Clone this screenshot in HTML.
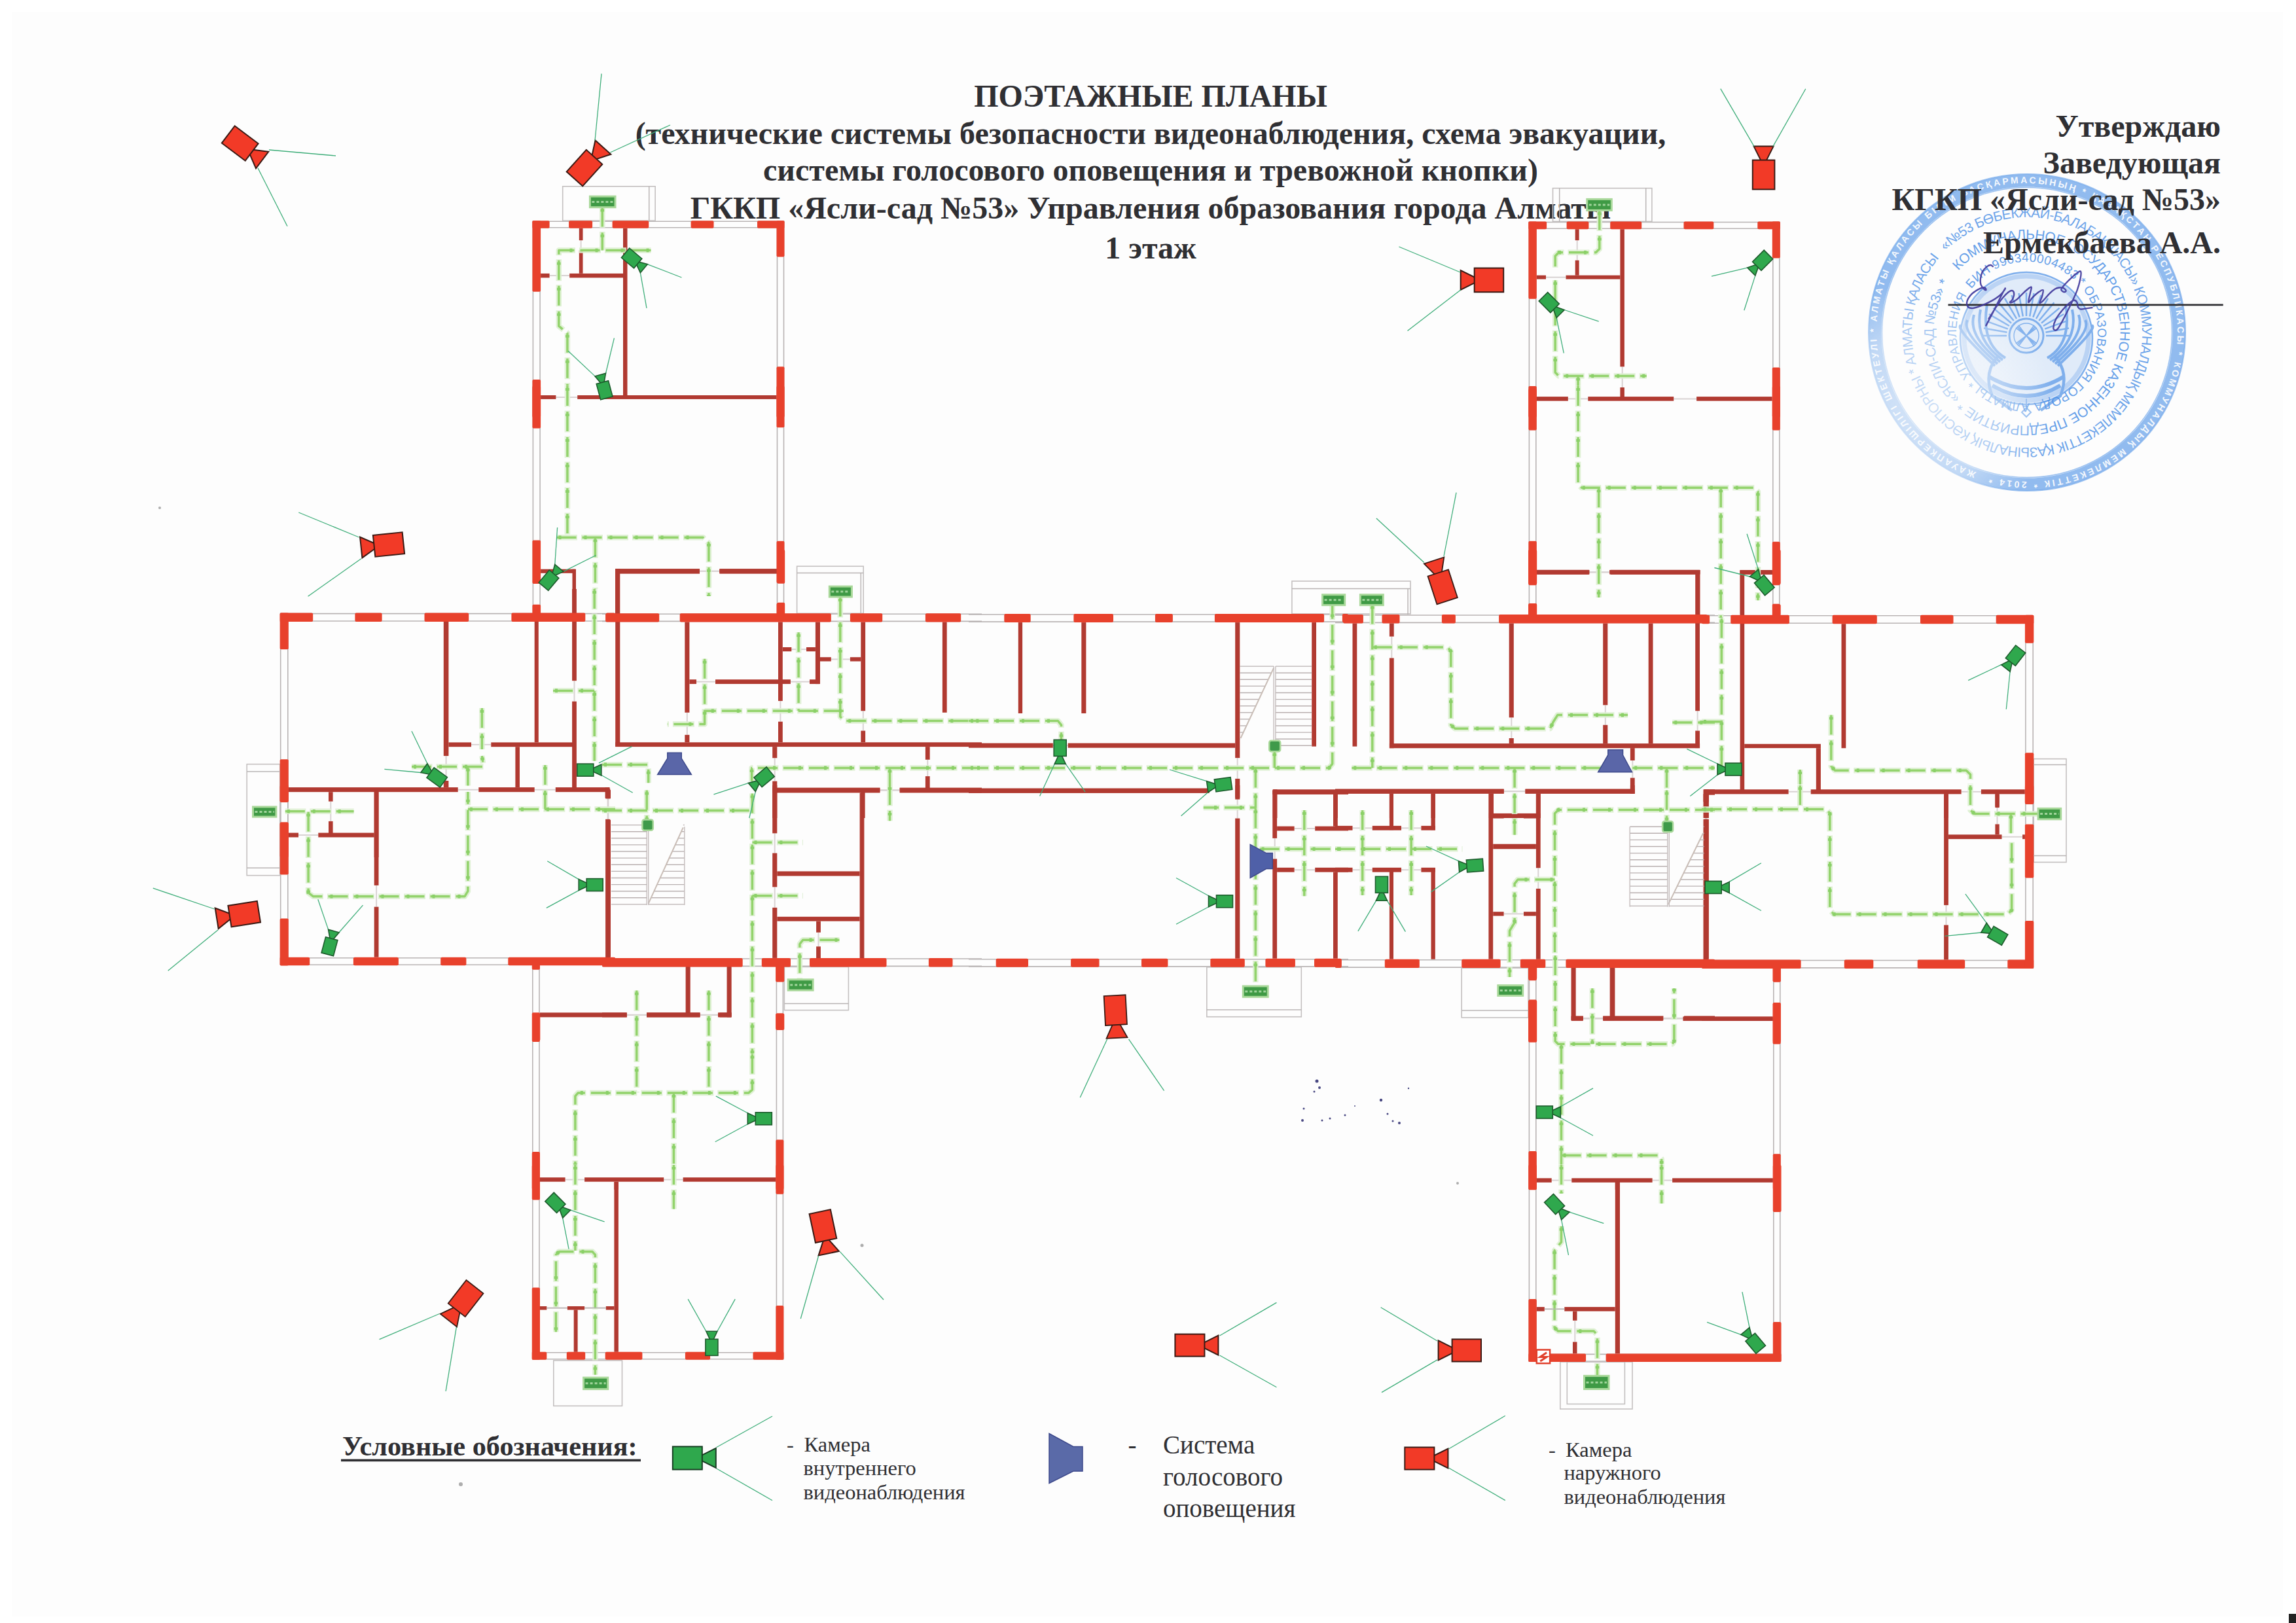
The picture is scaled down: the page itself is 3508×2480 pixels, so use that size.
<!DOCTYPE html>
<html><head><meta charset="utf-8"><title>Поэтажные планы</title>
<style>html,body{margin:0;padding:0;background:#fff;}body{width:3508px;height:2480px;overflow:hidden;position:relative;font-family:"Liberation Serif",serif;}svg{position:absolute;left:0;top:0;display:block}text{font-family:"Liberation Serif",serif}text.ss{font-family:"Liberation Sans",sans-serif}</style></head><body>
<svg width="3508" height="2480" viewBox="0 0 3508 2480">
<rect x="0" y="0" width="3508" height="2480" fill="#ffffff"/>
<rect x="18" y="18" width="3470" height="2452" fill="#fdfdfd"/><rect x="3497" y="2466" width="11" height="14" fill="#222"/>
<g id="stamp"><circle cx="3097" cy="508" r="232" fill="none" stroke="#4a8fe6" stroke-width="19" opacity="0.6"/><circle cx="3097" cy="508" r="242" fill="none" stroke="#4a8fe6" stroke-width="2" opacity="0.55"/><circle cx="3097" cy="508" r="221.5" fill="none" stroke="#4a8fe6" stroke-width="1.5" opacity="0.55"/><path id="rt0" d="M3019.4 721.3 A227 227 0 1 1 3174.6 294.7 A227 227 0 1 1 3019.4 721.3" fill="none"/><text class="ss" font-size="14" font-weight="bold" fill="#ffffff" opacity="0.9" letter-spacing="0" textLength="1416.3" lengthAdjust="spacing"><textPath href="#rt0">ЖАУАПКЕРШІЛІГІ ШЕКТЕУЛІ * АЛМАТЫ ҚАЛАСЫ БІЛІМ БАСҚАРМАСЫНЫҢ * ҚАЗАҚСТАН РЕСПУБЛИКАСЫ * КОММУНАЛДЫҚ МЕМЛЕКЕТТІК * 2014 *</textPath></text><path id="rt1" d="M2972.5 383.5 A176 176 0 1 1 3221.5 632.5 A176 176 0 1 1 2972.5 383.5" fill="none"/><text class="ss" font-size="21" font-weight="normal" fill="#4a8fe6" opacity="0.8" letter-spacing="0" textLength="1091.8" lengthAdjust="spacing"><textPath href="#rt1">«№53 БӨБЕКЖАЙ-БАЛАБАҚШАСЫ» КОММУНАЛДЫҚ МЕМЛЕКЕТТІК ҚАЗЫНАЛЫҚ КӘСІПОРНЫ * АЛМАТЫ ҚАЛАСЫ</textPath></text><path id="rt2" d="M2992.2 413.7 A141 141 0 1 1 3201.8 602.3 A141 141 0 1 1 2992.2 413.7" fill="none"/><text class="ss" font-size="21" font-weight="normal" fill="#4a8fe6" opacity="0.85" letter-spacing="0" textLength="871.9" lengthAdjust="spacing"><textPath href="#rt2">КОММУНАЛЬНОЕ ГОСУДАРСТВЕННОЕ КАЗЕННОЕ ПРЕДПРИЯТИЕ * «ЯСЛИ-САД №53» *</textPath></text><path id="rt3" d="M3011.9 441.5 A108 108 0 1 1 3182.1 574.5 A108 108 0 1 1 3011.9 441.5" fill="none"/><text class="ss" font-size="19" font-weight="normal" fill="#4a8fe6" opacity="0.85" letter-spacing="0" textLength="666.6" lengthAdjust="spacing"><textPath href="#rt3">БИН 990340004483 * ОБРАЗОВАНИЯ ГОРОДА АЛМАТЫ * УПРАВЛЕНИЯ</textPath></text><g opacity="0.7" fill="none" stroke="#4a8fe6"><circle cx="3096" cy="517" r="101" stroke-width="2.5" fill="#4a8fe6" fill-opacity="0.22"/><circle cx="3096" cy="517" r="95" stroke-width="7" opacity="0.4"/><circle cx="3096" cy="513" r="26" stroke-width="3"/><circle cx="3096" cy="513" r="19" stroke-width="1.5"/><path d="M3082 499 l28 28 M3110 499 l-28 28 M3084 497 l24 32 M3108 497 l-24 32 M3080 501 l32 24 M3080 525 l32 -24" stroke-width="1.8"/><path d="M3066 513 L3030 513 M3066.5 507.8 L3031 501.5 M3067.8 502.7 L3034 490.4 M3070 498 L3038.8 480 M3073 493.7 L3045.4 470.6 M3076.7 490 L3053.6 462.4 M3081 487 L3063 455.8 M3085.7 484.8 L3073.4 451 M3090.8 483.5 L3084.5 448 M3096 483 L3096 447 M3101.2 483.5 L3107.5 448 M3106.3 484.8 L3118.6 451 M3111 487 L3129 455.8 M3115.3 490 L3138.4 462.4 M3119 493.7 L3146.6 470.6 M3122 498 L3153.2 480 M3124.2 502.7 L3158 490.4 M3125.5 507.8 L3161 501.5 M3126 513 L3162 513 " stroke-width="2.5"/><path d="M3064 547 Q3026 525 3036 465" stroke-width="4"/><path d="M3060 550 Q3016 519 3026 473" stroke-width="4"/><path d="M3056 553 Q3006 513 3016 481" stroke-width="4"/><path d="M3052 556 Q2996 507 3006 489" stroke-width="4"/><path d="M3048 559 Q2986 501 2996 497" stroke-width="4"/><path d="M3052 545 q-22 25 -8 60 q14 10 30 22" stroke-width="4.5"/><path d="M3128 547 Q3166 525 3156 465" stroke-width="4"/><path d="M3132 550 Q3176 519 3166 473" stroke-width="4"/><path d="M3136 553 Q3186 513 3176 481" stroke-width="4"/><path d="M3140 556 Q3196 507 3186 489" stroke-width="4"/><path d="M3144 559 Q3206 501 3196 497" stroke-width="4"/><path d="M3140 545 q22 25 8 60 q-14 10 -30 22" stroke-width="4.5"/><path d="M3038 575 q58 36 116 0 M3044 589 q52 32 104 0" stroke-width="6"/><path d="M3096 609 l0 14 l-7 7 l7 7 l7 -7 l-7 -7" stroke-width="2"/></g><defs><radialGradient id="fade"><stop offset="0" stop-color="#fdfdfd" stop-opacity="0.65"/><stop offset="0.6" stop-color="#fdfdfd" stop-opacity="0.45"/><stop offset="1" stop-color="#fdfdfd" stop-opacity="0"/></radialGradient></defs><circle cx="2947" cy="618" r="190" fill="url(#fade)"/></g>
<g font-weight="bold" font-size="48" fill="#2f2f33" text-anchor="middle">
<text x="1758" y="162.5">ПОЭТАЖНЫЕ ПЛАНЫ</text>
<text x="1758" y="219.5">(технические системы безопасности видеонаблюдения, схема эвакуации,</text>
<text x="1758" y="276">системы голосового оповещения и тревожной кнопки)</text>
<text x="1758" y="334">ГККП «Ясли-сад №53» Управления образования города Алматы</text>
<text x="1758" y="394.5">1 этаж</text>
</g>
<g font-weight="bold" font-size="48" fill="#2f2f33" text-anchor="end">
<text x="3393" y="208.5">Утверждаю</text>
<text x="3393" y="264.6">Заведующая</text>
<text x="3393" y="320.7">КГКП «Ясли-сад №53»</text>
<text x="3393" y="386.6">Ермекбаева А.А.</text>
</g>
<line x1="2976.5" y1="465.9" x2="3396.7" y2="465.9" stroke="#2f2f33" stroke-width="2.8"/>
<path d="M3044.8 407.1 C3044.2 406.8 3042.7 404.9 3041.1 405 C3039.6 405.1 3037.4 406 3035.4 407.6 C3033.4 409.3 3030.7 412 3029.1 414.9 C3027.6 417.9 3026.4 422.1 3026 425.4 C3025.6 428.7 3025.6 432.1 3026.5 434.8 C3027.4 437.5 3029.9 440.2 3031.2 441.6 C3032.5 443 3034 443.4 3034.4 443.2 C3034.7 442.9 3034.2 440.6 3033.3 440 C3032.4 439.4 3031 439.1 3029.1 439.5 C3027.2 439.9 3024.6 441 3021.8 442.6 C3019 444.3 3015.1 446.6 3012.4 449.4 C3009.7 452.3 3006.6 456.7 3005.6 459.9 C3004.7 463.1 3005.2 466.9 3006.7 468.8 C3008.1 470.6 3011.1 471.1 3014.5 470.9 C3017.9 470.6 3022.3 469 3027 467.2 C3031.7 465.4 3038 462.5 3042.7 459.9 C3047.4 457.3 3051.9 454.3 3055.3 451.5 C3058.6 448.7 3061.2 445 3062.6 443.2 C3064 441.3 3064.1 439.7 3063.6 440.6 C3063.1 441.4 3061.5 444.3 3059.4 448.4 C3057.3 452.5 3053.9 459.5 3051.1 465.1 C3048.3 470.7 3045.5 476.4 3042.7 481.8 C3039.9 487.2 3035.7 494.9 3034.4 497.5 M3038.5 487.1 C3040.3 484.3 3045.5 475.6 3049 470.3 C3052.5 465.1 3056.1 459.7 3059.4 455.7 C3062.7 451.7 3066.3 448.2 3068.8 446.3 C3071.4 444.4 3073.2 443.7 3074.6 444.2 C3076 444.7 3077.2 447.2 3077.2 449.4 C3077.2 451.7 3075.6 455.7 3074.6 457.8 C3073.6 459.9 3071 461.3 3070.9 462 C3070.9 462.7 3072.2 462.9 3074.1 462 C3076 461.1 3079.3 459.4 3082.4 456.8 C3085.6 454.1 3089.4 449.4 3092.9 446.3 C3096.4 443.3 3101.9 438.1 3103.3 438.5 C3104.8 438.8 3102.5 444.5 3101.8 448.4 C3101.1 452.3 3098.5 460.9 3099.2 462 C3099.8 463 3102.8 457.3 3105.4 454.7 C3108 452.1 3112.1 448.2 3114.8 446.3 C3117.5 444.4 3120.8 442.1 3121.6 443.2 C3122.5 444.2 3120.9 449.3 3120.1 452.6 C3119.2 455.9 3116.1 462 3116.4 463 C3116.8 464.1 3119.6 461.3 3122.2 458.8 C3124.7 456.4 3128.6 451.3 3131.6 448.4 C3134.5 445.5 3137.5 443.1 3139.9 441.6 C3142.4 440.1 3144.1 439.8 3146.2 439.5 C3148.3 439.3 3150.7 439.3 3152.5 440 C3154.2 440.8 3156.5 443.2 3156.6 444.2 C3156.8 445.3 3154.7 446.7 3153.5 446.3 C3152.3 446 3149 444.2 3149.3 442.1 C3149.7 440 3152.8 436.9 3155.6 433.8 C3158.4 430.6 3162.9 426.2 3166.1 423.3 C3169.2 420.4 3172.2 417.9 3174.4 416.5 C3176.6 415.1 3178.4 413.5 3179.1 414.9 C3179.8 416.4 3179.6 420.5 3178.6 425.4 C3177.6 430.3 3175.8 437.6 3173.4 444.2 C3170.9 450.8 3167.3 458.2 3164 465.1 C3160.7 472.1 3156.6 480.1 3153.5 486 C3150.4 491.9 3147.3 497.5 3145.2 500.7 C3143 503.8 3141.8 504.8 3140.4 504.8 C3139.1 504.8 3137.2 503.4 3137.3 500.7 C3137.4 497.9 3138.6 492.6 3141 488.1 C3143.3 483.6 3147.9 477.7 3151.4 473.5 C3154.9 469.3 3158.9 465.5 3161.9 463 C3164.8 460.6 3167.3 459 3169.2 458.8 C3171.1 458.7 3172.4 460.2 3173.4 462 C3174.3 463.7 3174.1 467.6 3174.9 469.3 C3175.8 471 3176.6 472.1 3178.6 472.4 C3180.6 472.8 3184 471.8 3187 471.4 C3189.9 471 3194.8 470.3 3196.4 470.1" fill="none" stroke="#413a9c" stroke-width="2.4" stroke-linecap="round" stroke-linejoin="round" opacity="0.92"/>
<g id="win" fill="none" stroke="#b9b4b4" stroke-width="1.6">
<path d="M814.4 337.2V637.8M825.1 337.2V637.8"/>
<path d="M1187.5 337.2V637.8M1197.5 337.2V637.8"/>
<path d="M813.4 338.2H1198.5M813.4 347.7H1198.5"/>
<path d="M814.4 590V944.1M825.1 590V944.1"/>
<path d="M1187.5 590V944.1M1197.5 590V944.1"/>
<path d="M428.7 936.6V1310M439.8 936.6V1310"/>
<path d="M427.7 937.6H940M427.7 949H940"/>
<path d="M428.7 1200V1475.3M439.8 1200V1475.3"/>
<path d="M427.7 1463.7H940M427.7 1474.3H940"/>
<path d="M920 938.3H1500M920 949.4H1500"/>
<path d="M1480 939H2060M1480 950.1H2060"/>
<path d="M2040 940H2620M2040 951.4H2620"/>
<path d="M2600 940.8H3107.2M2600 952.2H3107.2"/>
<path d="M920 1465H1500M920 1476.4H1500"/>
<path d="M1480 1465.7H2060M1480 1476.9H2060"/>
<path d="M2040 1466.7H2620M2040 1478.1H2620"/>
<path d="M2600 1467.5H3107.2M2600 1478.9H3107.2"/>
<path d="M3094.9 947.4V1479.9M3106.2 947.4V1479.9"/>
<path d="M2336.4 338.5V637.8M2346.8 338.5V637.8"/>
<path d="M2708.8 338.5V637.8M2718.8 338.5V637.8"/>
<path d="M2335.4 339.5H2719.8M2335.4 349.2H2719.8"/>
<path d="M2336.4 590V944.1M2346.8 590V944.1"/>
<path d="M2708.8 590V944.1M2718.8 590V944.1"/>
<path d="M813.8 1473.1V1817.8M824 1473.1V1817.8"/>
<path d="M1186.4 1473.1V1817.8M1196.4 1473.1V1817.8"/>
<path d="M813.8 1780V2077.8M824 1780V2077.8"/>
<path d="M1186.4 1780V2077.8M1196.4 1780V2077.8"/>
<path d="M812.8 2066.8H1197.4M812.8 2076.8H1197.4"/>
<path d="M2336.4 1473.1V1817.8M2346.8 1473.1V1817.8"/>
<path d="M2709.8 1473.1V1817.8M2719.8 1473.1V1817.8"/>
<path d="M2336.4 1780V2081M2346.8 1780V2081"/>
<path d="M2709.8 1780V2081M2719.8 1780V2081"/>
<path d="M2335.4 2069.4H2721.5M2335.4 2080H2721.5"/>
</g>
<g id="porch" fill="none" stroke="#c4c0c0" stroke-width="1.6">
<rect x="859.7" y="284.8" width="141.4" height="52.4"/>
<rect x="377.2" y="1167.7" width="50.5" height="170"/>
<rect x="1217.6" y="865.3" width="101.6" height="72"/>
<rect x="1973.9" y="888" width="181.1" height="50"/>
<rect x="1198.4" y="1477.4" width="98" height="66.2"/>
<rect x="1843.8" y="1477.9" width="144.5" height="75.8"/>
<rect x="2233.2" y="1479.1" width="101.8" height="75.8"/>
<rect x="3107.2" y="1159.6" width="49.8" height="157.9"/>
<rect x="2372.5" y="287.6" width="151.4" height="50.8"/>
<rect x="845.8" y="2078.9" width="104.7" height="69.4"/>
<rect x="2383.8" y="2081" width="110.2" height="72"/>
<rect x="2394.3" y="2081" width="88.1" height="64.4"/>
</g>
<g id="stairs"></g>
<g id="doors" stroke="#d9d3d3" stroke-width="2">
<line x1="839.6" y1="421.1" x2="870.2" y2="421.1"/>
<line x1="887.6" y1="367.3" x2="887.6" y2="382.5"/>
<line x1="849.4" y1="606.9" x2="882.2" y2="606.9"/>
<line x1="1068.7" y1="872.7" x2="1099.2" y2="872.7"/>
<line x1="681.6" y1="1155.1" x2="681.6" y2="1193"/>
<line x1="699.8" y1="1206.7" x2="731.3" y2="1206.7"/>
<line x1="816.7" y1="1206.7" x2="848.8" y2="1206.7"/>
<line x1="720" y1="1137.8" x2="750.3" y2="1137.8"/>
<line x1="877.5" y1="1040.2" x2="877.5" y2="1071.8"/>
<line x1="505.3" y1="1224.6" x2="505.3" y2="1254.9"/>
<line x1="456" y1="1276" x2="486.3" y2="1276"/>
<line x1="575.1" y1="1352.8" x2="575.1" y2="1385.7"/>
<line x1="929.4" y1="1220.2" x2="929.4" y2="1253"/>
<line x1="1069" y1="872.8" x2="1099.4" y2="872.8"/>
<line x1="1049.8" y1="1088.8" x2="1049.8" y2="1122.9"/>
<line x1="1064" y1="1041.7" x2="1093" y2="1041.7"/>
<line x1="1208" y1="1041.7" x2="1237" y2="1041.7"/>
<line x1="1192.4" y1="1071.1" x2="1192.4" y2="1102.7"/>
<line x1="1183.7" y1="1158.3" x2="1183.7" y2="1193.7"/>
<line x1="1209.2" y1="992.2" x2="1232" y2="992.2"/>
<line x1="1269.9" y1="1007.4" x2="1298.9" y2="1007.4"/>
<line x1="1318.8" y1="1086.3" x2="1318.8" y2="1116.6"/>
<line x1="1417.3" y1="1160.8" x2="1417.3" y2="1186.1"/>
<line x1="1344.4" y1="1207.3" x2="1374.7" y2="1207.3"/>
<line x1="1890.7" y1="1158.3" x2="1890.7" y2="1189.9"/>
<line x1="1608.8" y1="1139.1" x2="1631.6" y2="1139.1"/>
<line x1="2126.3" y1="972.6" x2="2126.3" y2="1005.5"/>
<line x1="2309.3" y1="1096.4" x2="2309.3" y2="1128"/>
<line x1="2452.8" y1="1077.5" x2="2452.8" y2="1107.8"/>
<line x1="2593.6" y1="1086.3" x2="2593.6" y2="1116.6"/>
<line x1="2427.8" y1="874.4" x2="2460.6" y2="874.4"/>
<line x1="2494.3" y1="1162.1" x2="2494.3" y2="1188.6"/>
<line x1="2297.7" y1="1209.2" x2="2330.5" y2="1209.2"/>
<line x1="2732.6" y1="1209.8" x2="2766.7" y2="1209.8"/>
<line x1="2996.6" y1="1209.8" x2="3026.9" y2="1209.8"/>
<line x1="928.6" y1="1220.2" x2="928.6" y2="1251.8"/>
<line x1="1344.4" y1="1207.6" x2="1374.7" y2="1207.6"/>
<line x1="1183.7" y1="1273.3" x2="1183.7" y2="1303.6"/>
<line x1="1183.7" y1="1355.4" x2="1183.7" y2="1386.9"/>
<line x1="1250.5" y1="1424.8" x2="1250.5" y2="1446.3"/>
<line x1="957.9" y1="1550.9" x2="988.2" y2="1550.9"/>
<line x1="1069" y1="1550.9" x2="1099.4" y2="1550.9"/>
<line x1="1890.7" y1="1218.9" x2="1890.7" y2="1250.5"/>
<line x1="1947.7" y1="1280.8" x2="1947.7" y2="1312.4"/>
<line x1="1977.6" y1="1266.1" x2="2009.2" y2="1266.1"/>
<line x1="1977.6" y1="1329.2" x2="2009.2" y2="1329.2"/>
<line x1="2297.7" y1="1209.1" x2="2330.5" y2="1209.1"/>
<line x1="2066.5" y1="1265.3" x2="2096.8" y2="1265.3"/>
<line x1="2141" y1="1265.3" x2="2171.4" y2="1265.3"/>
<line x1="2066.5" y1="1329.2" x2="2096.8" y2="1329.2"/>
<line x1="2141" y1="1329.2" x2="2171.4" y2="1329.2"/>
<line x1="2350.3" y1="1326.3" x2="2350.3" y2="1357.9"/>
<line x1="2297.7" y1="1247.4" x2="2328" y2="1247.4"/>
<line x1="2297.7" y1="1396.4" x2="2328" y2="1396.4"/>
<line x1="2607.4" y1="1225.3" x2="2607.4" y2="1251.8"/>
<line x1="2418.9" y1="1555.8" x2="2449.2" y2="1555.8"/>
<line x1="2541.4" y1="1555.8" x2="2573" y2="1555.8"/>
<line x1="2606.1" y1="1225.3" x2="2606.1" y2="1251.8"/>
<line x1="2973.5" y1="1383.1" x2="2973.5" y2="1413.5"/>
<line x1="3058.5" y1="1278.7" x2="3090.1" y2="1278.7"/>
<line x1="3051.5" y1="1232.8" x2="3051.5" y2="1259.4"/>
<line x1="2478.7" y1="560.3" x2="2478.7" y2="592"/>
<line x1="2362" y1="423.7" x2="2392.5" y2="423.7"/>
<line x1="2409.7" y1="367.3" x2="2409.7" y2="397.8"/>
<line x1="2395.8" y1="609.4" x2="2426.3" y2="609.4"/>
<line x1="2557.2" y1="609.4" x2="2592.1" y2="609.4"/>
<line x1="2428.5" y1="874.2" x2="2459.1" y2="874.2"/>
<line x1="957.4" y1="1550.8" x2="988" y2="1550.8"/>
<line x1="1069.8" y1="1550.8" x2="1097" y2="1550.8"/>
<line x1="863.6" y1="1802.5" x2="893.1" y2="1802.5"/>
<line x1="1014.1" y1="1802.5" x2="1043.6" y2="1802.5"/>
<line x1="835.3" y1="1998.7" x2="866.9" y2="1998.7"/>
<line x1="893.1" y1="1998.7" x2="925.8" y2="1998.7"/>
<line x1="2418.7" y1="1556.6" x2="2449.2" y2="1556.6"/>
<line x1="2540.9" y1="1556.6" x2="2571.4" y2="1556.6"/>
<line x1="2370.7" y1="1803.6" x2="2401.3" y2="1803.6"/>
<line x1="2524.5" y1="1803.6" x2="2555.1" y2="1803.6"/>
<line x1="2359.8" y1="2000.3" x2="2390.3" y2="2000.3"/>
<line x1="2406.3" y1="2017.8" x2="2406.3" y2="2050.5"/>
</g>
<g id="inner">
<rect x="952" y="348.7" width="6.5" height="258.5" fill="#b13a31"/>
<rect x="826.1" y="417.9" width="13.5" height="6.5" fill="#b13a31"/>
<rect x="870.2" y="417.9" width="81.8" height="6.5" fill="#b13a31"/>
<rect x="884.8" y="348.7" width="5.7" height="18.5" fill="#b13a31"/>
<rect x="884.8" y="382.5" width="5.7" height="35.3" fill="#b13a31"/>
<rect x="826.1" y="604" width="23.3" height="5.9" fill="#b13a31"/>
<rect x="882.2" y="604" width="304.3" height="5.9" fill="#b13a31"/>
<rect x="826.1" y="869.7" width="52.8" height="6.1" fill="#b13a31"/>
<rect x="940" y="869.7" width="128.7" height="6.1" fill="#b13a31"/>
<rect x="1099.2" y="869.7" width="87.3" height="6.1" fill="#b13a31"/>
<rect x="874.5" y="869.7" width="5.5" height="69.4" fill="#b13a31"/>
<rect x="940" y="869.7" width="6.5" height="69.4" fill="#b13a31"/>
<rect x="677.8" y="950" width="7.6" height="205.1" fill="#b13a31"/>
<rect x="677.8" y="1193" width="7.6" height="10.1" fill="#b13a31"/>
<rect x="440.8" y="1203.1" width="258.9" height="7.1" fill="#b13a31"/>
<rect x="731.3" y="1203.1" width="85.4" height="7.1" fill="#b13a31"/>
<rect x="848.8" y="1203.1" width="82.6" height="7.1" fill="#b13a31"/>
<rect x="924.6" y="1203.1" width="6.8" height="16.4" fill="#b13a31"/>
<rect x="685.4" y="1134.4" width="34.6" height="6.8" fill="#b13a31"/>
<rect x="750.3" y="1134.4" width="125" height="6.8" fill="#b13a31"/>
<rect x="816.7" y="950" width="6.1" height="184.4" fill="#b13a31"/>
<rect x="874.1" y="900" width="6.8" height="140.2" fill="#b13a31"/>
<rect x="874.1" y="1071.8" width="6.8" height="135.1" fill="#b13a31"/>
<rect x="787.4" y="1141.2" width="6.6" height="61.9" fill="#b13a31"/>
<rect x="571.7" y="1210.2" width="6.8" height="99.8" fill="#b13a31"/>
<rect x="502" y="1210.2" width="6.6" height="14.4" fill="#b13a31"/>
<rect x="502" y="1254.9" width="6.6" height="18.4" fill="#b13a31"/>
<rect x="440.8" y="1272.6" width="15.2" height="6.8" fill="#b13a31"/>
<rect x="486.3" y="1272.6" width="85.4" height="6.8" fill="#b13a31"/>
<rect x="571.7" y="1207.1" width="6.8" height="145.8" fill="#b13a31"/>
<rect x="571.7" y="1385.7" width="6.8" height="77" fill="#b13a31"/>
<rect x="925.9" y="1207.1" width="7.1" height="13.1" fill="#b13a31"/>
<rect x="925.9" y="1253" width="7.1" height="209.7" fill="#b13a31"/>
<rect x="940.2" y="869.1" width="128.8" height="7.6" fill="#b13a31"/>
<rect x="1099.4" y="869.1" width="87.9" height="7.6" fill="#b13a31"/>
<rect x="940.2" y="869.1" width="7.1" height="271.6" fill="#b13a31"/>
<rect x="940.2" y="1134.3" width="559.8" height="6.8" fill="#b13a31"/>
<rect x="1046.3" y="950.4" width="7.1" height="138.4" fill="#b13a31"/>
<rect x="1046.3" y="1122.9" width="7.1" height="11.4" fill="#b13a31"/>
<rect x="1053.4" y="1038.3" width="10.6" height="6.8" fill="#b13a31"/>
<rect x="1093" y="1038.3" width="114.9" height="6.8" fill="#b13a31"/>
<rect x="1237" y="1038.3" width="15.2" height="6.8" fill="#b13a31"/>
<rect x="1189" y="950.4" width="6.8" height="120.7" fill="#b13a31"/>
<rect x="1189" y="1102.7" width="6.8" height="31.6" fill="#b13a31"/>
<rect x="1180.2" y="1141.1" width="7.1" height="17.2" fill="#b13a31"/>
<rect x="1180.2" y="1193.7" width="7.1" height="56.3" fill="#b13a31"/>
<rect x="1245.9" y="950.4" width="7.1" height="94.7" fill="#b13a31"/>
<rect x="1195.9" y="989" width="13.4" height="6.3" fill="#b13a31"/>
<rect x="1232" y="989" width="13.9" height="6.3" fill="#b13a31"/>
<rect x="1252.9" y="1004.2" width="16.9" height="6.3" fill="#b13a31"/>
<rect x="1298.9" y="1004.2" width="16.4" height="6.3" fill="#b13a31"/>
<rect x="1315.3" y="950.4" width="6.8" height="135.9" fill="#b13a31"/>
<rect x="1315.3" y="1116.6" width="6.8" height="17.7" fill="#b13a31"/>
<rect x="1439.9" y="950.4" width="6.8" height="138.4" fill="#b13a31"/>
<rect x="1413.9" y="1141.1" width="6.8" height="19.7" fill="#b13a31"/>
<rect x="1413.9" y="1186.1" width="6.8" height="20.2" fill="#b13a31"/>
<rect x="1184" y="1203.8" width="160.4" height="7.1" fill="#b13a31"/>
<rect x="1374.7" y="1203.8" width="125.3" height="7.1" fill="#b13a31"/>
<rect x="1315.3" y="1210.8" width="6.3" height="39.2" fill="#b13a31"/>
<rect x="1555.8" y="951.1" width="6.3" height="138.9" fill="#b13a31"/>
<rect x="1652.3" y="951.1" width="7.1" height="138.9" fill="#b13a31"/>
<rect x="1887.2" y="951.1" width="7.1" height="207.1" fill="#b13a31"/>
<rect x="1887.2" y="1189.9" width="7.1" height="31.6" fill="#b13a31"/>
<rect x="2004.2" y="951.1" width="6.8" height="189.5" fill="#b13a31"/>
<rect x="1480" y="1135.6" width="128.8" height="7.1" fill="#b13a31"/>
<rect x="1631.6" y="1135.6" width="255.6" height="7.1" fill="#b13a31"/>
<rect x="1480" y="1205" width="367.6" height="6.8" fill="#b13a31"/>
<rect x="1944.8" y="1206.3" width="115.2" height="7.1" fill="#b13a31"/>
<rect x="1944.8" y="1206.3" width="6.6" height="43.7" fill="#b13a31"/>
<rect x="2037" y="1213.4" width="6.8" height="36.6" fill="#b13a31"/>
<rect x="2066.5" y="952.4" width="6.8" height="188.2" fill="#b13a31"/>
<rect x="2122.9" y="952.4" width="6.8" height="20.2" fill="#b13a31"/>
<rect x="2122.9" y="1005.5" width="6.8" height="137.7" fill="#b13a31"/>
<rect x="2122.9" y="1136.1" width="474.2" height="7.1" fill="#b13a31"/>
<rect x="2305.7" y="952.4" width="7.1" height="144" fill="#b13a31"/>
<rect x="2305.7" y="1128" width="7.1" height="8.1" fill="#b13a31"/>
<rect x="2449.2" y="952.4" width="7.1" height="125" fill="#b13a31"/>
<rect x="2449.2" y="1107.8" width="7.1" height="28.3" fill="#b13a31"/>
<rect x="2518.7" y="952.4" width="6.8" height="183.6" fill="#b13a31"/>
<rect x="2590.2" y="871.6" width="6.8" height="214.7" fill="#b13a31"/>
<rect x="2590.2" y="1116.6" width="6.8" height="26.5" fill="#b13a31"/>
<rect x="2348.2" y="870.8" width="79.6" height="7.1" fill="#b13a31"/>
<rect x="2460.6" y="870.8" width="136.4" height="7.1" fill="#b13a31"/>
<rect x="2490.9" y="1143.1" width="6.8" height="18.9" fill="#b13a31"/>
<rect x="2490.9" y="1188.6" width="6.8" height="24" fill="#b13a31"/>
<rect x="2040" y="1205.8" width="257.7" height="6.8" fill="#b13a31"/>
<rect x="2330.5" y="1205.8" width="167.2" height="6.8" fill="#b13a31"/>
<rect x="2122.9" y="1212.6" width="6.1" height="37.4" fill="#b13a31"/>
<rect x="2186.5" y="1212.6" width="6.3" height="37.4" fill="#b13a31"/>
<rect x="2274.9" y="1212.6" width="7.1" height="37.4" fill="#b13a31"/>
<rect x="2346.9" y="1212.6" width="6.8" height="37.4" fill="#b13a31"/>
<rect x="2274.9" y="1242.9" width="78.8" height="7.1" fill="#b13a31"/>
<rect x="2603.8" y="1206.3" width="7.1" height="43.7" fill="#b13a31"/>
<rect x="2603.8" y="1206.3" width="16.2" height="7.1" fill="#b13a31"/>
<rect x="2658.6" y="871.6" width="6.6" height="336" fill="#b13a31"/>
<rect x="2658.6" y="871.6" width="50" height="6.3" fill="#b13a31"/>
<rect x="2813.5" y="953.2" width="6.8" height="190" fill="#b13a31"/>
<rect x="2665.2" y="1136.8" width="116.7" height="6.3" fill="#b13a31"/>
<rect x="2774.8" y="1143.1" width="7.1" height="64.4" fill="#b13a31"/>
<rect x="2602.5" y="1206.3" width="130.1" height="7.1" fill="#b13a31"/>
<rect x="2766.7" y="1206.3" width="229.9" height="7.1" fill="#b13a31"/>
<rect x="3026.9" y="1206.3" width="66.9" height="7.1" fill="#b13a31"/>
<rect x="2602.5" y="1213.4" width="6.3" height="36.6" fill="#b13a31"/>
<rect x="2970.1" y="1213.4" width="6.8" height="36.6" fill="#b13a31"/>
<rect x="3048.4" y="1213.4" width="6.3" height="20.7" fill="#b13a31"/>
<rect x="925.1" y="1205.1" width="7.1" height="15.2" fill="#b13a31"/>
<rect x="925.1" y="1251.8" width="7.1" height="212.2" fill="#b13a31"/>
<rect x="1180.2" y="1203.8" width="164.2" height="7.6" fill="#b13a31"/>
<rect x="1374.7" y="1203.8" width="125.3" height="7.6" fill="#b13a31"/>
<rect x="1180.2" y="1200" width="7.1" height="73.3" fill="#b13a31"/>
<rect x="1180.2" y="1303.6" width="7.1" height="51.8" fill="#b13a31"/>
<rect x="1180.2" y="1386.9" width="7.1" height="77" fill="#b13a31"/>
<rect x="1313.6" y="1211.4" width="6.8" height="252.6" fill="#b13a31"/>
<rect x="1187.3" y="1331.4" width="126.3" height="7.1" fill="#b13a31"/>
<rect x="1187.3" y="1400.8" width="126.3" height="6.8" fill="#b13a31"/>
<rect x="1247.1" y="1407.6" width="6.8" height="17.2" fill="#b13a31"/>
<rect x="1247.1" y="1446.3" width="6.8" height="17.7" fill="#b13a31"/>
<rect x="1047.6" y="1477.4" width="6.8" height="76.3" fill="#b13a31"/>
<rect x="1110.7" y="1477.4" width="6.8" height="76.3" fill="#b13a31"/>
<rect x="920" y="1547.3" width="37.9" height="7.1" fill="#b13a31"/>
<rect x="988.2" y="1547.3" width="80.8" height="7.1" fill="#b13a31"/>
<rect x="1099.4" y="1547.3" width="18.2" height="7.1" fill="#b13a31"/>
<rect x="1480" y="1204.5" width="367.6" height="6.8" fill="#b13a31"/>
<rect x="1887.2" y="1200" width="7.1" height="18.9" fill="#b13a31"/>
<rect x="1887.2" y="1250.5" width="7.1" height="214.2" fill="#b13a31"/>
<rect x="1944.3" y="1207.6" width="6.8" height="73.3" fill="#b13a31"/>
<rect x="1944.3" y="1312.4" width="6.8" height="152.3" fill="#b13a31"/>
<rect x="1944.3" y="1207.6" width="115.7" height="6.3" fill="#b13a31"/>
<rect x="1951.1" y="1262.6" width="26.5" height="6.8" fill="#b13a31"/>
<rect x="2009.2" y="1262.6" width="50.8" height="6.8" fill="#b13a31"/>
<rect x="1951.1" y="1325.8" width="26.5" height="6.8" fill="#b13a31"/>
<rect x="2009.2" y="1325.8" width="50.8" height="6.8" fill="#b13a31"/>
<rect x="2037" y="1213.9" width="6.8" height="48.8" fill="#b13a31"/>
<rect x="2037" y="1332.6" width="6.8" height="132.1" fill="#b13a31"/>
<rect x="2040" y="1205.6" width="257.7" height="7.1" fill="#b13a31"/>
<rect x="2330.5" y="1205.6" width="167.2" height="7.1" fill="#b13a31"/>
<rect x="2490.9" y="1200" width="6.8" height="12.6" fill="#b13a31"/>
<rect x="2122.9" y="1212.6" width="6.1" height="55.6" fill="#b13a31"/>
<rect x="2122.9" y="1326.3" width="6.1" height="139.4" fill="#b13a31"/>
<rect x="2186.5" y="1212.6" width="6.3" height="55.6" fill="#b13a31"/>
<rect x="2186.5" y="1326.3" width="6.3" height="139.4" fill="#b13a31"/>
<rect x="2040" y="1261.9" width="26.5" height="6.8" fill="#b13a31"/>
<rect x="2096.8" y="1261.9" width="44.2" height="6.8" fill="#b13a31"/>
<rect x="2171.4" y="1261.9" width="21.5" height="6.8" fill="#b13a31"/>
<rect x="2040" y="1325.8" width="26.5" height="6.8" fill="#b13a31"/>
<rect x="2096.8" y="1325.8" width="44.2" height="6.8" fill="#b13a31"/>
<rect x="2171.4" y="1325.8" width="21.5" height="6.8" fill="#b13a31"/>
<rect x="2274.4" y="1212.6" width="6.8" height="253.1" fill="#b13a31"/>
<rect x="2346.9" y="1212.6" width="6.8" height="113.7" fill="#b13a31"/>
<rect x="2346.9" y="1357.9" width="6.8" height="107.9" fill="#b13a31"/>
<rect x="2281.2" y="1244.2" width="16.4" height="6.3" fill="#b13a31"/>
<rect x="2328" y="1244.2" width="18.9" height="6.3" fill="#b13a31"/>
<rect x="2281.2" y="1289.7" width="65.7" height="7.6" fill="#b13a31"/>
<rect x="2281.2" y="1393.2" width="16.4" height="6.3" fill="#b13a31"/>
<rect x="2328" y="1393.2" width="18.9" height="6.3" fill="#b13a31"/>
<rect x="2603.8" y="1207.6" width="7.1" height="17.7" fill="#b13a31"/>
<rect x="2603.8" y="1251.8" width="7.1" height="214" fill="#b13a31"/>
<rect x="2603.8" y="1207.6" width="16.2" height="7.1" fill="#b13a31"/>
<rect x="2400.7" y="1479.1" width="6.8" height="79.6" fill="#b13a31"/>
<rect x="2460.6" y="1479.1" width="6.8" height="79.6" fill="#b13a31"/>
<rect x="2400.7" y="1552.4" width="18.2" height="6.8" fill="#b13a31"/>
<rect x="2449.2" y="1552.4" width="92.2" height="6.8" fill="#b13a31"/>
<rect x="2573" y="1552.4" width="47" height="6.8" fill="#b13a31"/>
<rect x="2602.5" y="1213.1" width="7.1" height="12.1" fill="#b13a31"/>
<rect x="2602.5" y="1251.8" width="7.1" height="214.7" fill="#b13a31"/>
<rect x="2970.1" y="1213.1" width="6.8" height="170" fill="#b13a31"/>
<rect x="2970.1" y="1413.5" width="6.8" height="53" fill="#b13a31"/>
<rect x="2976.9" y="1275.3" width="81.6" height="6.8" fill="#b13a31"/>
<rect x="3090.1" y="1275.3" width="3.8" height="6.8" fill="#b13a31"/>
<rect x="3048.4" y="1213.1" width="6.3" height="19.7" fill="#b13a31"/>
<rect x="3048.4" y="1259.4" width="6.3" height="15.9" fill="#b13a31"/>
<rect x="2600" y="1553.7" width="108.6" height="6.3" fill="#b13a31"/>
<rect x="2475.4" y="350.2" width="6.5" height="210.1" fill="#b13a31"/>
<rect x="2475.4" y="592" width="6.5" height="15.3" fill="#b13a31"/>
<rect x="2347.8" y="420.7" width="14.2" height="5.9" fill="#b13a31"/>
<rect x="2392.5" y="420.7" width="82.9" height="5.9" fill="#b13a31"/>
<rect x="2406.7" y="350.2" width="5.9" height="17" fill="#b13a31"/>
<rect x="2406.7" y="397.8" width="5.9" height="22.9" fill="#b13a31"/>
<rect x="2347.8" y="606.1" width="48" height="6.5" fill="#b13a31"/>
<rect x="2426.3" y="606.1" width="130.9" height="6.5" fill="#b13a31"/>
<rect x="2592.1" y="606.1" width="115.6" height="6.5" fill="#b13a31"/>
<rect x="2347.8" y="871" width="80.7" height="6.5" fill="#b13a31"/>
<rect x="2459.1" y="871" width="138.5" height="6.5" fill="#b13a31"/>
<rect x="2658.7" y="871" width="49.1" height="6.5" fill="#b13a31"/>
<rect x="2591" y="871" width="6.5" height="68.1" fill="#b13a31"/>
<rect x="2658.7" y="871" width="6.1" height="68.1" fill="#b13a31"/>
<rect x="825" y="1547.3" width="132.4" height="7" fill="#b13a31"/>
<rect x="988" y="1547.3" width="81.8" height="7" fill="#b13a31"/>
<rect x="1097" y="1547.3" width="20.3" height="7" fill="#b13a31"/>
<rect x="1048" y="1476.4" width="6.5" height="70.9" fill="#b13a31"/>
<rect x="1110.8" y="1476.4" width="6.5" height="77.9" fill="#b13a31"/>
<rect x="825" y="1799.2" width="38.6" height="6.5" fill="#b13a31"/>
<rect x="893.1" y="1799.2" width="121.1" height="6.5" fill="#b13a31"/>
<rect x="1043.6" y="1799.2" width="141.8" height="6.5" fill="#b13a31"/>
<rect x="938.4" y="1805.8" width="6.5" height="12" fill="#b13a31"/>
<rect x="938.4" y="1806.2" width="6.5" height="259.6" fill="#b13a31"/>
<rect x="825" y="1996" width="10.3" height="5.5" fill="#b13a31"/>
<rect x="866.9" y="1996" width="26.2" height="5.5" fill="#b13a31"/>
<rect x="925.8" y="1996" width="12.7" height="5.5" fill="#b13a31"/>
<rect x="876.7" y="2001.4" width="5.9" height="64.4" fill="#b13a31"/>
<rect x="2400.8" y="1478.5" width="6.5" height="80.7" fill="#b13a31"/>
<rect x="2459.7" y="1478.5" width="6.5" height="80.7" fill="#b13a31"/>
<rect x="2400.8" y="1553.4" width="17.9" height="6.5" fill="#b13a31"/>
<rect x="2449.2" y="1553.4" width="91.6" height="6.5" fill="#b13a31"/>
<rect x="2571.4" y="1553.4" width="137.4" height="6.5" fill="#b13a31"/>
<rect x="2347.8" y="1800.3" width="22.9" height="6.5" fill="#b13a31"/>
<rect x="2401.3" y="1800.3" width="123.3" height="6.5" fill="#b13a31"/>
<rect x="2555.1" y="1800.3" width="153.8" height="6.5" fill="#b13a31"/>
<rect x="2467.8" y="1806.9" width="6.5" height="10.9" fill="#b13a31"/>
<rect x="2467.8" y="1805.7" width="7.2" height="262.7" fill="#b13a31"/>
<rect x="2347.8" y="1997.1" width="12" height="6.5" fill="#b13a31"/>
<rect x="2390.3" y="1997.1" width="77.4" height="6.5" fill="#b13a31"/>
<rect x="2403" y="2003.6" width="6.5" height="14.2" fill="#b13a31"/>
<rect x="2403" y="2050.5" width="6.5" height="17.9" fill="#b13a31"/>
</g>
<g id="outer">
<rect x="813.4" y="337.2" width="12.7" height="108.6" fill="#e8412c" rx="2"/>
<rect x="813.4" y="580" width="12.7" height="57.8" fill="#e8412c" rx="2"/>
<rect x="1186.5" y="337.2" width="12" height="55.2" fill="#e8412c" rx="2"/>
<rect x="1186.5" y="560.3" width="12" height="77.4" fill="#e8412c" rx="2"/>
<rect x="813.4" y="337.2" width="26.2" height="11.6" fill="#e8412c" rx="2"/>
<rect x="869.1" y="337.2" width="36" height="11.6" fill="#e8412c" rx="2"/>
<rect x="935.6" y="337.2" width="55.6" height="11.6" fill="#e8412c" rx="2"/>
<rect x="1055.6" y="337.2" width="34.9" height="11.6" fill="#e8412c" rx="2"/>
<rect x="1157" y="337.2" width="41.4" height="11.6" fill="#e8412c" rx="2"/>
<rect x="813.4" y="590" width="12.7" height="64.4" fill="#e8412c" rx="2"/>
<rect x="813.4" y="825.6" width="12.7" height="66.5" fill="#e8412c" rx="2"/>
<rect x="813.4" y="923.8" width="12.7" height="20.3" fill="#e8412c" rx="2"/>
<rect x="1186.5" y="590" width="12" height="63.3" fill="#e8412c" rx="2"/>
<rect x="1186.5" y="826.7" width="12" height="64.4" fill="#e8412c" rx="2"/>
<rect x="1186.5" y="921.6" width="12" height="22.5" fill="#e8412c" rx="2"/>
<rect x="427.7" y="936.6" width="13.1" height="55.6" fill="#e8412c" rx="2"/>
<rect x="427.7" y="1160.2" width="13.1" height="65.7" fill="#e8412c" rx="2"/>
<rect x="427.7" y="1256.2" width="13.1" height="53.8" fill="#e8412c" rx="2"/>
<rect x="427.7" y="936.6" width="50.5" height="13.4" fill="#e8412c" rx="2"/>
<rect x="542.4" y="936.6" width="41.2" height="13.4" fill="#e8412c" rx="2"/>
<rect x="648.5" y="936.6" width="67.7" height="13.4" fill="#e8412c" rx="2"/>
<rect x="781.4" y="936.6" width="112.9" height="13.4" fill="#e8412c" rx="2"/>
<rect x="925.9" y="936.6" width="14.1" height="13.4" fill="#e8412c" rx="2"/>
<rect x="427.7" y="1200" width="13.1" height="25.3" fill="#e8412c" rx="2"/>
<rect x="427.7" y="1257.6" width="13.1" height="78.8" fill="#e8412c" rx="2"/>
<rect x="427.7" y="1403.4" width="13.1" height="72" fill="#e8412c" rx="2"/>
<rect x="427.7" y="1462.7" width="45.5" height="12.6" fill="#e8412c" rx="2"/>
<rect x="539.9" y="1462.7" width="69" height="12.6" fill="#e8412c" rx="2"/>
<rect x="673.2" y="1462.7" width="39.2" height="12.6" fill="#e8412c" rx="2"/>
<rect x="776.3" y="1462.7" width="163.7" height="12.6" fill="#e8412c" rx="2"/>
<rect x="813.4" y="1549.9" width="11.9" height="40.4" fill="#e8412c" rx="2"/>
<rect x="925.1" y="937.3" width="82.1" height="13.1" fill="#e8412c" rx="2"/>
<rect x="1038.7" y="937.3" width="231.1" height="13.1" fill="#e8412c" rx="2"/>
<rect x="1298.9" y="937.3" width="49.3" height="13.1" fill="#e8412c" rx="2"/>
<rect x="1413.9" y="937.3" width="54.3" height="13.1" fill="#e8412c" rx="2"/>
<rect x="1187.3" y="840" width="11.9" height="51.8" fill="#e8412c" rx="2"/>
<rect x="1187.3" y="920.8" width="11.9" height="20.2" fill="#e8412c" rx="2"/>
<rect x="1534.3" y="938" width="40.4" height="13.1" fill="#e8412c" rx="2"/>
<rect x="1640.4" y="938" width="60.6" height="13.1" fill="#e8412c" rx="2"/>
<rect x="1764.9" y="938" width="27" height="13.1" fill="#e8412c" rx="2"/>
<rect x="1855.9" y="938" width="167.2" height="13.1" fill="#e8412c" rx="2"/>
<rect x="2050.9" y="938" width="9.1" height="13.1" fill="#e8412c" rx="2"/>
<rect x="2052.1" y="939" width="30.8" height="13.4" fill="#e8412c" rx="2"/>
<rect x="2111.5" y="939" width="27" height="13.4" fill="#e8412c" rx="2"/>
<rect x="2202.9" y="939" width="21" height="13.4" fill="#e8412c" rx="2"/>
<rect x="2290.1" y="939" width="318.3" height="13.4" fill="#e8412c" rx="2"/>
<rect x="2335.1" y="840" width="13.1" height="53" fill="#e8412c" rx="2"/>
<rect x="2335.1" y="922.1" width="13.1" height="18.9" fill="#e8412c" rx="2"/>
<rect x="2600" y="939.8" width="12.1" height="13.4" fill="#e8412c" rx="2"/>
<rect x="2644.2" y="939.8" width="89.7" height="13.4" fill="#e8412c" rx="2"/>
<rect x="2799.6" y="939.8" width="68.2" height="13.4" fill="#e8412c" rx="2"/>
<rect x="2934" y="939.8" width="50.5" height="13.4" fill="#e8412c" rx="2"/>
<rect x="3049.7" y="939.8" width="57.6" height="13.4" fill="#e8412c" rx="2"/>
<rect x="3093.9" y="939.8" width="13.4" height="42.9" fill="#e8412c" rx="2"/>
<rect x="3093.9" y="1150.2" width="13.4" height="78.8" fill="#e8412c" rx="2"/>
<rect x="2708.6" y="840" width="12.1" height="53" fill="#e8412c" rx="2"/>
<rect x="2708.6" y="923.4" width="12.1" height="17.7" fill="#e8412c" rx="2"/>
<rect x="920" y="1464" width="214.7" height="13.4" fill="#e8412c" rx="2"/>
<rect x="1163.8" y="1464" width="44.2" height="13.4" fill="#e8412c" rx="2"/>
<rect x="1237" y="1464" width="117.5" height="13.4" fill="#e8412c" rx="2"/>
<rect x="1418.9" y="1464" width="36.6" height="13.4" fill="#e8412c" rx="2"/>
<rect x="1185.2" y="1475.3" width="13.1" height="25.3" fill="#e8412c" rx="2"/>
<rect x="1185.2" y="1548.6" width="13.1" height="25.3" fill="#e8412c" rx="2"/>
<rect x="1521.7" y="1464.7" width="49.3" height="13.1" fill="#e8412c" rx="2"/>
<rect x="1636.1" y="1464.7" width="43.4" height="13.1" fill="#e8412c" rx="2"/>
<rect x="1744" y="1464.7" width="40.4" height="13.1" fill="#e8412c" rx="2"/>
<rect x="1849.3" y="1464.7" width="52.5" height="13.1" fill="#e8412c" rx="2"/>
<rect x="1933.4" y="1464.7" width="45.5" height="13.1" fill="#e8412c" rx="2"/>
<rect x="2008" y="1464.7" width="41.7" height="13.1" fill="#e8412c" rx="2"/>
<rect x="2040" y="1465.7" width="9.6" height="13.4" fill="#e8412c" rx="2"/>
<rect x="2115.8" y="1465.7" width="53" height="13.4" fill="#e8412c" rx="2"/>
<rect x="2233.2" y="1465.7" width="59.4" height="13.4" fill="#e8412c" rx="2"/>
<rect x="2322.9" y="1465.7" width="38.4" height="13.4" fill="#e8412c" rx="2"/>
<rect x="2392.4" y="1465.7" width="227.6" height="13.4" fill="#e8412c" rx="2"/>
<rect x="2335.1" y="1476.6" width="13.1" height="20.2" fill="#e8412c" rx="2"/>
<rect x="2335.1" y="1528.4" width="13.1" height="64.4" fill="#e8412c" rx="2"/>
<rect x="2600" y="1466.5" width="151.6" height="13.4" fill="#e8412c" rx="2"/>
<rect x="2817.8" y="1466.5" width="44.5" height="13.4" fill="#e8412c" rx="2"/>
<rect x="2929.7" y="1466.5" width="72.5" height="13.4" fill="#e8412c" rx="2"/>
<rect x="3067.3" y="1466.5" width="39.9" height="13.4" fill="#e8412c" rx="2"/>
<rect x="3093.9" y="1200" width="13.4" height="27.8" fill="#e8412c" rx="2"/>
<rect x="3093.9" y="1259.4" width="13.4" height="82.1" fill="#e8412c" rx="2"/>
<rect x="3093.9" y="1407.1" width="13.4" height="72.8" fill="#e8412c" rx="2"/>
<rect x="2708.6" y="1477.9" width="12.1" height="22.7" fill="#e8412c" rx="2"/>
<rect x="2708.6" y="1532.2" width="12.1" height="63.2" fill="#e8412c" rx="2"/>
<rect x="2335.4" y="338.5" width="12.4" height="118.2" fill="#e8412c" rx="2"/>
<rect x="2335.4" y="594.1" width="12.4" height="43.6" fill="#e8412c" rx="2"/>
<rect x="2707.8" y="338.5" width="12" height="56.1" fill="#e8412c" rx="2"/>
<rect x="2707.8" y="561.4" width="12" height="76.4" fill="#e8412c" rx="2"/>
<rect x="2335.4" y="338.5" width="27.7" height="11.8" fill="#e8412c" rx="2"/>
<rect x="2393.6" y="338.5" width="33.8" height="11.8" fill="#e8412c" rx="2"/>
<rect x="2460.2" y="338.5" width="48" height="11.8" fill="#e8412c" rx="2"/>
<rect x="2572.5" y="338.5" width="45.8" height="11.8" fill="#e8412c" rx="2"/>
<rect x="2685.3" y="338.5" width="34.5" height="11.8" fill="#e8412c" rx="2"/>
<rect x="2335.4" y="590" width="12.4" height="67.6" fill="#e8412c" rx="2"/>
<rect x="2335.4" y="826.7" width="12.4" height="67.6" fill="#e8412c" rx="2"/>
<rect x="2335.4" y="922.7" width="12.4" height="21.4" fill="#e8412c" rx="2"/>
<rect x="2707.8" y="590" width="12" height="67.6" fill="#e8412c" rx="2"/>
<rect x="2707.8" y="827.8" width="12" height="66.5" fill="#e8412c" rx="2"/>
<rect x="2707.8" y="922.7" width="12" height="21.4" fill="#e8412c" rx="2"/>
<rect x="812.8" y="1473.1" width="12.2" height="8.7" fill="#e8412c" rx="2"/>
<rect x="812.8" y="1547.3" width="12.2" height="44.7" fill="#e8412c" rx="2"/>
<rect x="812.8" y="1760" width="12.2" height="57.8" fill="#e8412c" rx="2"/>
<rect x="1185.4" y="1473.1" width="12" height="26.2" fill="#e8412c" rx="2"/>
<rect x="1185.4" y="1548.4" width="12" height="24" fill="#e8412c" rx="2"/>
<rect x="1185.4" y="1741.4" width="12" height="76.4" fill="#e8412c" rx="2"/>
<rect x="812.8" y="1780" width="12.2" height="53.4" fill="#e8412c" rx="2"/>
<rect x="812.8" y="1967.6" width="12.2" height="110.2" fill="#e8412c" rx="2"/>
<rect x="1185.4" y="1780" width="12" height="44.7" fill="#e8412c" rx="2"/>
<rect x="1185.4" y="1994.9" width="12" height="82.9" fill="#e8412c" rx="2"/>
<rect x="812.8" y="2065.8" width="22.5" height="12" fill="#e8412c" rx="2"/>
<rect x="865.8" y="2065.8" width="28.4" height="12" fill="#e8412c" rx="2"/>
<rect x="924.7" y="2065.8" width="56.7" height="12" fill="#e8412c" rx="2"/>
<rect x="1046.9" y="2065.8" width="38.2" height="12" fill="#e8412c" rx="2"/>
<rect x="1150.5" y="2065.8" width="46.9" height="12" fill="#e8412c" rx="2"/>
<rect x="2335.4" y="1473.1" width="12.4" height="25.1" fill="#e8412c" rx="2"/>
<rect x="2335.4" y="1527.6" width="12.4" height="63.3" fill="#e8412c" rx="2"/>
<rect x="2335.4" y="1758.9" width="12.4" height="58.9" fill="#e8412c" rx="2"/>
<rect x="2708.8" y="1473.1" width="12" height="27.3" fill="#e8412c" rx="2"/>
<rect x="2708.8" y="1532" width="12" height="61.1" fill="#e8412c" rx="2"/>
<rect x="2708.8" y="1763.2" width="12" height="54.5" fill="#e8412c" rx="2"/>
<rect x="2335.4" y="1780" width="12.4" height="38.2" fill="#e8412c" rx="2"/>
<rect x="2335.4" y="1985.1" width="12.4" height="96" fill="#e8412c" rx="2"/>
<rect x="2708.8" y="1780" width="12.7" height="72" fill="#e8412c" rx="2"/>
<rect x="2708.8" y="2020" width="12.7" height="61.1" fill="#e8412c" rx="2"/>
<rect x="2335.4" y="2068.4" width="87.7" height="12.7" fill="#e8412c" rx="2"/>
<rect x="2453.6" y="2068.4" width="267.9" height="12.7" fill="#e8412c" rx="2"/>
</g>
<defs><path id="rt" d="M920.3 316.6 L920.3 382.5M994.5 382.5 L853.8 382.5 L853.8 498.2 L866.9 509.1 L866.9 589.8M866.9 590 L866.9 821.2M850.5 821.2 L1074.1 821.2 L1082.9 830 L1082.9 910.7M909.4 821.2 L909.4 899.8M435.8 1239.8 L540.6 1239.8M629 1171.6 L738.9 1171.6 L736.4 1155.1M714.9 1171.6 L714.9 1200.6M736.4 1081.9 L736.4 1145M845 1055.4 L908.2 1055.4M908.2 900 L908.2 1162.7M832.9 1169 L832.9 1236M471.1 1240.4 L471.1 1364.2 L478.7 1369.8 L709.9 1369.8 L714.9 1361.7 L714.9 1210.1M714.9 1236.6 L940 1236.6M1283.8 912 L1283.8 1095.1 L1291.3 1101.5 L1500 1101.5M1288.8 1086.3 L1076.6 1086.3M1076.6 1006.7 L1076.6 1106.5 L1019.8 1106.5M1220.1 966.3 L1220.1 1086.3M1500 1173.4 L1148.6 1173.4 L1148.6 1193.7M1359.5 1173.4 L1359.5 1203.8M920 1168.4 L990.7 1168.4 L990.7 1196.2M920 1238.6 L1144.8 1238.6M1947.3 1148.2 L1947.3 1173.4M1480 1101.5 L1616.4 1101.5 L1621.5 1107.8 L1621.5 1130.5M1480 1173.4 L2030.7 1173.4 L2035.7 1167.1 L2035.7 924.6M1918.3 1173.4 L1918.3 1234.1 L1838.7 1234.1M2096.8 923.4 L2096.8 1173.4M2096.8 989 L2211.8 989 L2216.8 995.4 L2216.8 1107.8 L2223.1 1113.3 L2368.4 1113.3 L2373.4 1102.7 L2379.8 1092.6 L2487.1 1092.6M2555.3 1104 L2620 1104M2065.3 1173.4 L2620 1173.4M2314.1 1173.4 L2314.1 1211.3M2546.5 1173.4 L2546.5 1206.3M2630.3 944.8 L2630.3 1173.4M2600 1102.7 L2630.3 1102.7M2797.8 1092.6 L2797.8 1170.9 L2803.4 1177.2 L3004.2 1177.2 L3010.5 1183.6 L3010.5 1198.7M2750.3 1176 L2750.3 1198.7M988.2 1207.6 L988.2 1251.8M1149.4 1212.6 L1149.4 1610M1149.4 1287.2 L1226.9 1287.2M1149.4 1368.7 L1226.9 1368.7M1359.5 1200 L1359.5 1254.3M1282.5 1436.2 L1226.9 1436.2 L1221.9 1442.5 L1221.9 1495.6M1918.3 1235.4 L1918.3 1513.2M1924.6 1297.3 L2060 1297.3M1992.8 1237.9 L1992.8 1369.3M2040 1297.3 L2234.5 1297.3M2081.7 1237.9 L2081.7 1368M2156.2 1237.9 L2156.2 1368M2314.1 1212.6 L2314.1 1275.8M2620 1237.4 L2381 1237.4 L2375.5 1242.9 L2375.5 1460.2M2546.5 1207.6 L2546.5 1254.3M2375.5 1344 L2319.1 1344 L2314.1 1350.3 L2314.1 1409.7 L2306.5 1422.3 L2306.5 1493M2600 1236.6 L2790.7 1236.6 L2795.8 1242.9 L2795.8 1390.7 L2802.1 1397 L3067.3 1397 L3073.6 1390.7 L3073.6 1283.4M2750.3 1200 L2750.3 1236.6M3010.5 1200 L3010.5 1237.9 L3016.8 1243.4 L3112.8 1243.4M3072.4 1243.4 L3072.4 1273.3M2443.8 321.4 L2443.8 380.3 L2438.3 385.8 L2381.6 385.8 L2376.2 391.3 L2376.2 410.9M2376.2 428.3 L2376.2 569 L2381.6 574.5 L2515.8 574.5M2411.1 574.5 L2411.1 589.8M2411.1 590 L2411.1 740.5 L2416.5 745.3 L2680.5 745.3 L2685.9 751.4 L2685.9 917.2M2442.7 745.3 L2442.7 912.9M2629.2 745.3 L2629.2 944.1M972.7 1513.4 L972.7 1669.4M1082.9 1513.4 L1082.9 1669.4M1149.4 1610.5 L1149.4 1665.1 L1143.9 1669.9 L883.3 1669.9 L878.9 1674.9 L878.9 1779.6M1029.4 1669.9 L1029.4 1779.6M878.9 1780 L878.9 1910.9M849.4 2035.2 L849.4 1917.4 L853.8 1912.6 L905.1 1912.6 L909.4 1917.4 L909.4 2100.7M1029.4 1780 L1029.4 1847.6M2376.2 1460 L2376.2 1590.9 L2380.5 1595.3 L2555.1 1595.3 L2557.9 1590.9 L2557.9 1510.2M2432.9 1510.2 L2432.9 1595.3M2385.5 1595.3 L2385.5 1779.6M2385.5 1765.4 L2534.3 1765.4 L2538.7 1770.9 L2538.7 1779.6M2385.5 1780 L2385.5 1823.6M2385.5 1873.8 L2385.5 1897.8 L2375.1 1910.9 L2375.1 2028.7 L2380.5 2034.1 L2435.1 2034.1 L2440.5 2039.6 L2440.5 2102.9M2538.7 1780 L2538.7 1838.9"/></defs>
<use href="#rt" fill="none" stroke="#ddf0d2" stroke-width="8.5" stroke-dasharray="33 6" stroke-dashoffset="1.5" stroke-linejoin="round" opacity="0.9"/>
<use href="#rt" fill="none" stroke="#93d36c" stroke-width="3.5" stroke-dasharray="30 9" stroke-linejoin="round"/>
<use href="#rt" fill="none" stroke="#8ad068" stroke-width="5.6" stroke-dasharray="4 35" stroke-dashoffset="-3" stroke-linejoin="round"/>
<g id="misc"><line x1="991.7" y1="284.8" x2="991.7" y2="337.2" stroke="#b9b4b4" stroke-width="1.5"/>
<rect x="901.4" y="300.1" width="38.6" height="16.6" fill="#3f9a45" stroke="#a9d89a" stroke-width="3"/>
<line x1="904.4" y1="308.4" x2="937" y2="308.4" stroke="#9fd39a" stroke-width="3" stroke-dasharray="4 3"/>
<rect x="386.5" y="1232.9" width="35.4" height="15.2" fill="#3f9a45" stroke="#a9d89a" stroke-width="3"/>
<line x1="389.5" y1="1240.5" x2="418.9" y2="1240.5" stroke="#9fd39a" stroke-width="3" stroke-dasharray="4 3"/>
<line x1="377.2" y1="1326.3" x2="427.7" y2="1326.3" stroke="#b9b4b4" stroke-width="1.5"/>
<line x1="377.2" y1="1179" x2="427.7" y2="1179" stroke="#b9b4b4" stroke-width="1.5"/>
<line x1="1217.6" y1="875.4" x2="1319.1" y2="875.4" stroke="#b9b4b4" stroke-width="1.5"/>
<line x1="1315.3" y1="875.4" x2="1315.3" y2="937.3" stroke="#b9b4b4" stroke-width="1.5"/>
<rect x="1267.3" y="896.1" width="34.1" height="15.9" fill="#3f9a45" stroke="#a9d89a" stroke-width="3"/>
<line x1="1270.3" y1="904" x2="1298.4" y2="904" stroke="#9fd39a" stroke-width="3" stroke-dasharray="4 3"/>
<path d="M1019.78 1150.21 H1041.25 V1158.8 L1056.41 1183.55 H1004.63 L1019.78 1158.8 Z" fill="#5a66a8" stroke="#3e4a8c" stroke-width="1.5"/>
<line x1="1894.3" y1="1018.1" x2="1946.1" y2="1018.1" stroke="#b9b0b0" stroke-width="1.4"/>
<line x1="1948.9" y1="1018.1" x2="2004.2" y2="1018.1" stroke="#b9b0b0" stroke-width="1.4"/>
<line x1="1894.3" y1="1028.2" x2="1942.5" y2="1028.2" stroke="#b9b0b0" stroke-width="1.4"/>
<line x1="1948.9" y1="1028.2" x2="2004.2" y2="1028.2" stroke="#b9b0b0" stroke-width="1.4"/>
<line x1="1894.3" y1="1038.3" x2="1937.8" y2="1038.3" stroke="#b9b0b0" stroke-width="1.4"/>
<line x1="1948.9" y1="1038.3" x2="2004.2" y2="1038.3" stroke="#b9b0b0" stroke-width="1.4"/>
<line x1="1894.3" y1="1048.4" x2="1933" y2="1048.4" stroke="#b9b0b0" stroke-width="1.4"/>
<line x1="1948.9" y1="1048.4" x2="2004.2" y2="1048.4" stroke="#b9b0b0" stroke-width="1.4"/>
<line x1="1894.3" y1="1058.5" x2="1928.2" y2="1058.5" stroke="#b9b0b0" stroke-width="1.4"/>
<line x1="1948.9" y1="1058.5" x2="2004.2" y2="1058.5" stroke="#b9b0b0" stroke-width="1.4"/>
<line x1="1894.3" y1="1068.6" x2="1923.5" y2="1068.6" stroke="#b9b0b0" stroke-width="1.4"/>
<line x1="1948.9" y1="1068.6" x2="2004.2" y2="1068.6" stroke="#b9b0b0" stroke-width="1.4"/>
<line x1="1894.3" y1="1078.7" x2="1918.7" y2="1078.7" stroke="#b9b0b0" stroke-width="1.4"/>
<line x1="1948.9" y1="1078.7" x2="2004.2" y2="1078.7" stroke="#b9b0b0" stroke-width="1.4"/>
<line x1="1894.3" y1="1088.8" x2="1914" y2="1088.8" stroke="#b9b0b0" stroke-width="1.4"/>
<line x1="1948.9" y1="1088.8" x2="2004.2" y2="1088.8" stroke="#b9b0b0" stroke-width="1.4"/>
<line x1="1894.3" y1="1098.9" x2="1909.2" y2="1098.9" stroke="#b9b0b0" stroke-width="1.4"/>
<line x1="1948.9" y1="1098.9" x2="2004.2" y2="1098.9" stroke="#b9b0b0" stroke-width="1.4"/>
<line x1="1894.3" y1="1109" x2="1904.5" y2="1109" stroke="#b9b0b0" stroke-width="1.4"/>
<line x1="1948.9" y1="1109" x2="2004.2" y2="1109" stroke="#b9b0b0" stroke-width="1.4"/>
<line x1="1894.3" y1="1119.1" x2="1899.7" y2="1119.1" stroke="#b9b0b0" stroke-width="1.4"/>
<line x1="1948.9" y1="1119.1" x2="2004.2" y2="1119.1" stroke="#b9b0b0" stroke-width="1.4"/>
<line x1="1894.3" y1="1129.2" x2="1895" y2="1129.2" stroke="#b9b0b0" stroke-width="1.4"/>
<line x1="1948.9" y1="1129.2" x2="2004.2" y2="1129.2" stroke="#b9b0b0" stroke-width="1.4"/>
<line x1="1894.3" y1="1139.3" x2="1894.3" y2="1139.3" stroke="#b9b0b0" stroke-width="1.4"/>
<line x1="1948.9" y1="1139.3" x2="2004.2" y2="1139.3" stroke="#b9b0b0" stroke-width="1.4"/>
<line x1="1946.1" y1="1020.6" x2="1895.5" y2="1128" stroke="#c9bdb6" stroke-width="2"/>
<line x1="1946.1" y1="1018.1" x2="1946.1" y2="1140.6" stroke="#c4bcbc" stroke-width="1.4"/>
<line x1="1948.9" y1="1018.1" x2="1948.9" y2="1140.6" stroke="#c4bcbc" stroke-width="1.4"/>
<rect x="1939.25" y="1131.77" width="16.9251" height="16.4199" rx="3" fill="#3f9a4a" stroke="#a9d89a" stroke-width="2.5"/>
<line x1="1973.9" y1="899.4" x2="2155" y2="899.4" stroke="#b9b4b4" stroke-width="1.5"/>
<rect x="2020.6" y="908.7" width="34.1" height="15.9" fill="#3f9a45" stroke="#a9d89a" stroke-width="3"/>
<line x1="2023.6" y1="916.7" x2="2051.7" y2="916.7" stroke="#9fd39a" stroke-width="3" stroke-dasharray="4 3"/>
<line x1="2151.1" y1="899.4" x2="2151.1" y2="939" stroke="#b9b4b4" stroke-width="1.5"/>
<rect x="2078.4" y="908.7" width="34.9" height="15.9" fill="#3f9a45" stroke="#a9d89a" stroke-width="3"/>
<line x1="2081.4" y1="916.7" x2="2110.3" y2="916.7" stroke="#9fd39a" stroke-width="3" stroke-dasharray="4 3"/>
<path d="M2456.81 1145.66 H2479.55 V1153.75 L2493.44 1179.76 H2441.66 L2456.81 1153.75 Z" fill="#5a66a8" stroke="#3e4a8c" stroke-width="1.5"/>
<line x1="3107.2" y1="1168.4" x2="3157" y2="1168.4" stroke="#b9b4b4" stroke-width="1.5"/>
<line x1="933.9" y1="1260.6" x2="988.2" y2="1260.6" stroke="#b9b0b0" stroke-width="1.4"/>
<line x1="1043.8" y1="1260.6" x2="1045.8" y2="1260.6" stroke="#b9b0b0" stroke-width="1.4"/>
<line x1="933.9" y1="1270.7" x2="988.2" y2="1270.7" stroke="#b9b0b0" stroke-width="1.4"/>
<line x1="1040.9" y1="1270.7" x2="1045.8" y2="1270.7" stroke="#b9b0b0" stroke-width="1.4"/>
<line x1="933.9" y1="1280.8" x2="988.2" y2="1280.8" stroke="#b9b0b0" stroke-width="1.4"/>
<line x1="1036.3" y1="1280.8" x2="1045.8" y2="1280.8" stroke="#b9b0b0" stroke-width="1.4"/>
<line x1="933.9" y1="1290.9" x2="988.2" y2="1290.9" stroke="#b9b0b0" stroke-width="1.4"/>
<line x1="1031.7" y1="1290.9" x2="1045.8" y2="1290.9" stroke="#b9b0b0" stroke-width="1.4"/>
<line x1="933.9" y1="1301" x2="988.2" y2="1301" stroke="#b9b0b0" stroke-width="1.4"/>
<line x1="1027.1" y1="1301" x2="1045.8" y2="1301" stroke="#b9b0b0" stroke-width="1.4"/>
<line x1="933.9" y1="1311.1" x2="988.2" y2="1311.1" stroke="#b9b0b0" stroke-width="1.4"/>
<line x1="1022.4" y1="1311.1" x2="1045.8" y2="1311.1" stroke="#b9b0b0" stroke-width="1.4"/>
<line x1="933.9" y1="1321.3" x2="988.2" y2="1321.3" stroke="#b9b0b0" stroke-width="1.4"/>
<line x1="1017.8" y1="1321.3" x2="1045.8" y2="1321.3" stroke="#b9b0b0" stroke-width="1.4"/>
<line x1="933.9" y1="1331.4" x2="988.2" y2="1331.4" stroke="#b9b0b0" stroke-width="1.4"/>
<line x1="1013.2" y1="1331.4" x2="1045.8" y2="1331.4" stroke="#b9b0b0" stroke-width="1.4"/>
<line x1="933.9" y1="1341.5" x2="988.2" y2="1341.5" stroke="#b9b0b0" stroke-width="1.4"/>
<line x1="1008.6" y1="1341.5" x2="1045.8" y2="1341.5" stroke="#b9b0b0" stroke-width="1.4"/>
<line x1="933.9" y1="1351.6" x2="988.2" y2="1351.6" stroke="#b9b0b0" stroke-width="1.4"/>
<line x1="1004" y1="1351.6" x2="1045.8" y2="1351.6" stroke="#b9b0b0" stroke-width="1.4"/>
<line x1="933.9" y1="1361.7" x2="988.2" y2="1361.7" stroke="#b9b0b0" stroke-width="1.4"/>
<line x1="999.4" y1="1361.7" x2="1045.8" y2="1361.7" stroke="#b9b0b0" stroke-width="1.4"/>
<line x1="933.9" y1="1371.8" x2="988.2" y2="1371.8" stroke="#b9b0b0" stroke-width="1.4"/>
<line x1="994.8" y1="1371.8" x2="1045.8" y2="1371.8" stroke="#b9b0b0" stroke-width="1.4"/>
<line x1="933.9" y1="1381.9" x2="988.2" y2="1381.9" stroke="#b9b0b0" stroke-width="1.4"/>
<line x1="990.7" y1="1381.9" x2="1045.8" y2="1381.9" stroke="#b9b0b0" stroke-width="1.4"/>
<line x1="1043.8" y1="1264.4" x2="990.7" y2="1380.6" stroke="#c9bdb6" stroke-width="2"/>
<line x1="988.2" y1="1260.6" x2="988.2" y2="1383.1" stroke="#c4bcbc" stroke-width="1.4"/>
<line x1="990.7" y1="1260.6" x2="990.7" y2="1383.1" stroke="#c4bcbc" stroke-width="1.4"/>
<line x1="1045.8" y1="1263.2" x2="1045.8" y2="1383.1" stroke="#c4bcbc" stroke-width="1.4"/>
<rect x="981.385" y="1252.54" width="16.4199" height="16.1672" rx="3" fill="#3f9a4a" stroke="#a9d89a" stroke-width="2.5"/>
<line x1="1198.4" y1="1533.4" x2="1296.4" y2="1533.4" stroke="#b9b4b4" stroke-width="1.5"/>
<rect x="1204.2" y="1496.8" width="37.9" height="16.4" fill="#3f9a45" stroke="#a9d89a" stroke-width="3"/>
<line x1="1207.2" y1="1505" x2="1239.1" y2="1505" stroke="#9fd39a" stroke-width="3" stroke-dasharray="4 3"/>
<path d="M1910.2 1290.44 L1934.7 1303.57 H1944.3 V1327.57 H1934.7 L1910.2 1341.46 Z" fill="#4f60a8" stroke="#3e4a8c" stroke-width="1.5"/>
<line x1="1843.8" y1="1543" x2="1988.3" y2="1543" stroke="#b9b4b4" stroke-width="1.5"/>
<rect x="1899.3" y="1506.9" width="37.9" height="16.4" fill="#3f9a45" stroke="#a9d89a" stroke-width="3"/>
<line x1="1902.3" y1="1515.1" x2="1934.2" y2="1515.1" stroke="#9fd39a" stroke-width="3" stroke-dasharray="4 3"/>
<line x1="2490.2" y1="1263.2" x2="2547.8" y2="1263.2" stroke="#b9b0b0" stroke-width="1.4"/>
<line x1="2602.1" y1="1263.2" x2="2603.8" y2="1263.2" stroke="#b9b0b0" stroke-width="1.4"/>
<line x1="2490.2" y1="1273.3" x2="2547.8" y2="1273.3" stroke="#b9b0b0" stroke-width="1.4"/>
<line x1="2602.1" y1="1273.3" x2="2603.8" y2="1273.3" stroke="#b9b0b0" stroke-width="1.4"/>
<line x1="2490.2" y1="1283.4" x2="2547.8" y2="1283.4" stroke="#b9b0b0" stroke-width="1.4"/>
<line x1="2597.1" y1="1283.4" x2="2603.8" y2="1283.4" stroke="#b9b0b0" stroke-width="1.4"/>
<line x1="2490.2" y1="1293.5" x2="2547.8" y2="1293.5" stroke="#b9b0b0" stroke-width="1.4"/>
<line x1="2592.2" y1="1293.5" x2="2603.8" y2="1293.5" stroke="#b9b0b0" stroke-width="1.4"/>
<line x1="2490.2" y1="1303.6" x2="2547.8" y2="1303.6" stroke="#b9b0b0" stroke-width="1.4"/>
<line x1="2587.3" y1="1303.6" x2="2603.8" y2="1303.6" stroke="#b9b0b0" stroke-width="1.4"/>
<line x1="2490.2" y1="1313.7" x2="2547.8" y2="1313.7" stroke="#b9b0b0" stroke-width="1.4"/>
<line x1="2582.3" y1="1313.7" x2="2603.8" y2="1313.7" stroke="#b9b0b0" stroke-width="1.4"/>
<line x1="2490.2" y1="1323.8" x2="2547.8" y2="1323.8" stroke="#b9b0b0" stroke-width="1.4"/>
<line x1="2577.4" y1="1323.8" x2="2603.8" y2="1323.8" stroke="#b9b0b0" stroke-width="1.4"/>
<line x1="2490.2" y1="1333.9" x2="2547.8" y2="1333.9" stroke="#b9b0b0" stroke-width="1.4"/>
<line x1="2572.5" y1="1333.9" x2="2603.8" y2="1333.9" stroke="#b9b0b0" stroke-width="1.4"/>
<line x1="2490.2" y1="1344" x2="2547.8" y2="1344" stroke="#b9b0b0" stroke-width="1.4"/>
<line x1="2567.5" y1="1344" x2="2603.8" y2="1344" stroke="#b9b0b0" stroke-width="1.4"/>
<line x1="2490.2" y1="1354.1" x2="2547.8" y2="1354.1" stroke="#b9b0b0" stroke-width="1.4"/>
<line x1="2562.6" y1="1354.1" x2="2603.8" y2="1354.1" stroke="#b9b0b0" stroke-width="1.4"/>
<line x1="2490.2" y1="1364.2" x2="2547.8" y2="1364.2" stroke="#b9b0b0" stroke-width="1.4"/>
<line x1="2557.7" y1="1364.2" x2="2603.8" y2="1364.2" stroke="#b9b0b0" stroke-width="1.4"/>
<line x1="2490.2" y1="1374.3" x2="2547.8" y2="1374.3" stroke="#b9b0b0" stroke-width="1.4"/>
<line x1="2552.7" y1="1374.3" x2="2603.8" y2="1374.3" stroke="#b9b0b0" stroke-width="1.4"/>
<line x1="2490.2" y1="1384.4" x2="2547.8" y2="1384.4" stroke="#b9b0b0" stroke-width="1.4"/>
<line x1="2550.3" y1="1384.4" x2="2603.8" y2="1384.4" stroke="#b9b0b0" stroke-width="1.4"/>
<line x1="2602.1" y1="1273.3" x2="2549" y2="1381.9" stroke="#c9bdb6" stroke-width="2"/>
<line x1="2490.2" y1="1263.2" x2="2490.2" y2="1385.7" stroke="#c4bcbc" stroke-width="1.4"/>
<line x1="2547.8" y1="1263.2" x2="2547.8" y2="1385.7" stroke="#c4bcbc" stroke-width="1.4"/>
<line x1="2550.3" y1="1263.2" x2="2550.3" y2="1385.7" stroke="#c4bcbc" stroke-width="1.4"/>
<rect x="2540.17" y="1255.07" width="15.9146" height="16.1672" rx="3" fill="#3f9a4a" stroke="#a9d89a" stroke-width="2.5"/>
<line x1="2233.2" y1="1544.1" x2="2335.1" y2="1544.1" stroke="#b9b4b4" stroke-width="1.5"/>
<rect x="2288.8" y="1505.7" width="37.9" height="15.7" fill="#3f9a45" stroke="#a9d89a" stroke-width="3"/>
<line x1="2291.8" y1="1513.5" x2="2323.7" y2="1513.5" stroke="#9fd39a" stroke-width="3" stroke-dasharray="4 3"/>
<line x1="3107.2" y1="1307.4" x2="3157" y2="1307.4" stroke="#b9b4b4" stroke-width="1.5"/>
<rect x="3114.1" y="1235.4" width="34.6" height="16.4" fill="#3f9a45" stroke="#a9d89a" stroke-width="3"/>
<line x1="3117.1" y1="1243.6" x2="3145.7" y2="1243.6" stroke="#9fd39a" stroke-width="3" stroke-dasharray="4 3"/>
<line x1="2382.7" y1="287.6" x2="2382.7" y2="338.5" stroke="#b9b4b4" stroke-width="1.5"/>
<line x1="2514.7" y1="287.6" x2="2514.7" y2="338.5" stroke="#b9b4b4" stroke-width="1.5"/>
<rect x="2424.8" y="304.4" width="37.5" height="17" fill="#3f9a45" stroke="#a9d89a" stroke-width="3"/>
<line x1="2427.8" y1="312.9" x2="2459.3" y2="312.9" stroke="#9fd39a" stroke-width="3" stroke-dasharray="4 3"/>
<line x1="835.3" y1="1998.6" x2="866.9" y2="1998.6" stroke="#b9b4b4" stroke-width="1.5"/>
<line x1="893.1" y1="1998.6" x2="925.8" y2="1998.6" stroke="#b9b4b4" stroke-width="1.5"/>
<rect x="891.6" y="2105.1" width="37.1" height="17.5" fill="#3f9a45" stroke="#a9d89a" stroke-width="3"/>
<line x1="894.6" y1="2113.8" x2="925.7" y2="2113.8" stroke="#9fd39a" stroke-width="3" stroke-dasharray="4 3"/>
<line x1="2359.8" y1="2000.3" x2="2390.3" y2="2000.3" stroke="#b9b4b4" stroke-width="1.5"/>
<rect x="2420.5" y="2102.4" width="37.5" height="20.1" fill="#3f9a45" stroke="#a9d89a" stroke-width="3"/>
<line x1="2423.5" y1="2112.5" x2="2455" y2="2112.5" stroke="#9fd39a" stroke-width="3" stroke-dasharray="4 3"/>
<rect x="2347.81" y="2062.5" width="20.288" height="20.7243" fill="#fff" stroke="#e0402c" stroke-width="2.5"/>
<path d="M2363.08 2066.87 L2353.26 2073.41 L2363.08 2073.41 L2353.26 2079.96" fill="none" stroke="#e0402c" stroke-width="3"/></g>
<g id="fov" stroke="#3fae7a" stroke-width="1.3" fill="none">
<line x1="989.3" y1="403.8" x2="1041.4" y2="424"/>
<line x1="978.4" y1="416.8" x2="988" y2="470.9"/>
<line x1="925.5" y1="570.5" x2="938.4" y2="516.7"/>
<line x1="909.1" y1="574.9" x2="868" y2="536.3"/>
<line x1="847.8" y1="862.5" x2="851.6" y2="806"/>
<line x1="860.8" y1="873.4" x2="910.5" y2="848.5"/>
<line x1="652.9" y1="1166.7" x2="629" y2="1117.2"/>
<line x1="642.9" y1="1180.5" x2="587.4" y2="1175.3"/>
<line x1="501.6" y1="1420.4" x2="485.8" y2="1374.3"/>
<line x1="518" y1="1424.8" x2="554.5" y2="1383.1"/>
<line x1="884.2" y1="1343.6" x2="836.2" y2="1315.7"/>
<line x1="884.2" y1="1360.6" x2="834.9" y2="1387.4"/>
<line x1="1143.3" y1="1196.6" x2="1090.5" y2="1213.9"/>
<line x1="1154.3" y1="1209.6" x2="1144.8" y2="1250"/>
<line x1="914.9" y1="1165.9" x2="965.5" y2="1140.6"/>
<line x1="914.9" y1="1182.3" x2="966.7" y2="1211.3"/>
<line x1="1611.2" y1="1167.4" x2="1588.6" y2="1216.4"/>
<line x1="1628.2" y1="1167.4" x2="1658.1" y2="1210.1"/>
<line x1="1843.6" y1="1193.7" x2="1786.9" y2="1176"/>
<line x1="1845.9" y1="1210.5" x2="1804.6" y2="1246.7"/>
<line x1="2175.8" y1="859.5" x2="2102.9" y2="792"/>
<line x1="2206" y1="850" x2="2225" y2="752.7"/>
<line x1="3057.7" y1="1015.7" x2="3007.2" y2="1039.6"/>
<line x1="3071.1" y1="1026.2" x2="3065.3" y2="1083.8"/>
<line x1="2624" y1="1167" x2="2577.3" y2="1144.4"/>
<line x1="2624" y1="1184" x2="2582.3" y2="1216.4"/>
<line x1="1846.5" y1="1368.8" x2="1797" y2="1341.5"/>
<line x1="1846.5" y1="1385.8" x2="1797" y2="1412.2"/>
<line x1="1691.7" y1="1587.8" x2="1650.3" y2="1677"/>
<line x1="1724.5" y1="1587.8" x2="1778.6" y2="1666.7"/>
<line x1="2102.5" y1="1376.3" x2="2074.9" y2="1422.8"/>
<line x1="2119.5" y1="1376.3" x2="2147.4" y2="1423.6"/>
<line x1="2228.4" y1="1315.7" x2="2178.9" y2="1293"/>
<line x1="2229.6" y1="1332.7" x2="2186.5" y2="1362.9"/>
<line x1="2642.2" y1="1347.4" x2="2690.9" y2="1318.7"/>
<line x1="2642.2" y1="1364.4" x2="2690.9" y2="1391.5"/>
<line x1="3035.2" y1="1410.3" x2="3002.9" y2="1366.2"/>
<line x1="3026.7" y1="1425" x2="2971.3" y2="1430.4"/>
<line x1="2390.1" y1="473.5" x2="2442.7" y2="491.2"/>
<line x1="2378.1" y1="485.5" x2="2389.3" y2="539.6"/>
<line x1="2669.8" y1="409.1" x2="2615" y2="422.2"/>
<line x1="2681.8" y1="421.1" x2="2664.8" y2="474.2"/>
<line x1="2686.5" y1="870.1" x2="2669.1" y2="815.8"/>
<line x1="2673.5" y1="881" x2="2619.4" y2="867.5"/>
<line x1="1142.3" y1="1700.8" x2="1093.8" y2="1674.9"/>
<line x1="1142.3" y1="1717.8" x2="1092.7" y2="1744.7"/>
<line x1="871.7" y1="1849.1" x2="923.6" y2="1866.8"/>
<line x1="859.7" y1="1861.1" x2="869.1" y2="1908.7"/>
<line x1="1078.9" y1="2034.3" x2="1051.2" y2="1985.1"/>
<line x1="1095.9" y1="2034.3" x2="1123.2" y2="1985.1"/>
<line x1="671.3" y1="2007.5" x2="579.6" y2="2046.6"/>
<line x1="697.4" y1="2027.6" x2="681.1" y2="2125.8"/>
<line x1="2384.3" y1="1691" x2="2434" y2="1662.9"/>
<line x1="2384.3" y1="1708" x2="2434" y2="1735.3"/>
<line x1="2398" y1="1852.1" x2="2450.3" y2="1869.4"/>
<line x1="2385.6" y1="1863.7" x2="2396.5" y2="1917.9"/>
<line x1="2660" y1="2039.4" x2="2608.1" y2="2020.4"/>
<line x1="2673" y1="2028.5" x2="2661.9" y2="1974.2"/>
</g>
<g id="cams">
<g transform="translate(965.1 394.5) rotate(40)" fill="#2fa84d" stroke="#1d5a2c" stroke-width="1.6"><polygon points="10.5,-2 24.5,-8.5 24.5,8.5 10.5,2"/><rect x="-12.5" y="-9.5" width="25" height="19"/></g>
<g transform="translate(923.6 596.3) rotate(-105)" fill="#2fa84d" stroke="#1d5a2c" stroke-width="1.6"><polygon points="10.5,-2 24.5,-8.5 24.5,8.5 10.5,2"/><rect x="-12.5" y="-9.5" width="25" height="19"/></g>
<g transform="translate(838.5 886.7) rotate(-50)" fill="#2fa84d" stroke="#1d5a2c" stroke-width="1.6"><polygon points="10.5,-2 24.5,-8.5 24.5,8.5 10.5,2"/><rect x="-12.5" y="-9.5" width="25" height="19"/></g>
<g transform="translate(667.7 1188) rotate(-144)" fill="#2fa84d" stroke="#1d5a2c" stroke-width="1.6"><polygon points="10.5,-2 24.5,-8.5 24.5,8.5 10.5,2"/><rect x="-12.5" y="-9.5" width="25" height="19"/></g>
<g transform="translate(894.3 1176.6) rotate(0)" fill="#2fa84d" stroke="#1d5a2c" stroke-width="1.6"><polygon points="10.5,-2 24.5,-8.5 24.5,8.5 10.5,2"/><rect x="-12.5" y="-9.5" width="25" height="19"/></g>
<g transform="translate(503.5 1446.3) rotate(-75)" fill="#2fa84d" stroke="#1d5a2c" stroke-width="1.6"><polygon points="10.5,-2 24.5,-8.5 24.5,8.5 10.5,2"/><rect x="-12.5" y="-9.5" width="25" height="19"/></g>
<g transform="translate(908.7 1352.1) rotate(180)" fill="#2fa84d" stroke="#1d5a2c" stroke-width="1.6"><polygon points="10.5,-2 24.5,-8.5 24.5,8.5 10.5,2"/><rect x="-12.5" y="-9.5" width="25" height="19"/></g>
<g transform="translate(1167.6 1187.3) rotate(140)" fill="#2fa84d" stroke="#1d5a2c" stroke-width="1.6"><polygon points="10.5,-2 24.5,-8.5 24.5,8.5 10.5,2"/><rect x="-12.5" y="-9.5" width="25" height="19"/></g>
<g transform="translate(1619.7 1142.9) rotate(90)" fill="#2fa84d" stroke="#1d5a2c" stroke-width="1.6"><polygon points="10.5,-2 24.5,-8.5 24.5,8.5 10.5,2"/><rect x="-12.5" y="-9.5" width="25" height="19"/></g>
<g transform="translate(1869 1198.7) rotate(172)" fill="#2fa84d" stroke="#1d5a2c" stroke-width="1.6"><polygon points="10.5,-2 24.5,-8.5 24.5,8.5 10.5,2"/><rect x="-12.5" y="-9.5" width="25" height="19"/></g>
<g transform="translate(2204.2 896.8) rotate(-108)" fill="#f23a27" stroke="#3a1a14" stroke-width="1.8"><polygon points="20.5,-5 42.5,-16 42.5,16 20.5,5"/><rect x="-22.5" y="-16.5" width="45" height="33"/></g>
<g transform="translate(3079.5 1001.7) rotate(128)" fill="#2fa84d" stroke="#1d5a2c" stroke-width="1.6"><polygon points="10.5,-2 24.5,-8.5 24.5,8.5 10.5,2"/><rect x="-12.5" y="-9.5" width="25" height="19"/></g>
<g transform="translate(2648.5 1175.5) rotate(180)" fill="#2fa84d" stroke="#1d5a2c" stroke-width="1.6"><polygon points="10.5,-2 24.5,-8.5 24.5,8.5 10.5,2"/><rect x="-12.5" y="-9.5" width="25" height="19"/></g>
<g transform="translate(1871 1377.3) rotate(180)" fill="#2fa84d" stroke="#1d5a2c" stroke-width="1.6"><polygon points="10.5,-2 24.5,-8.5 24.5,8.5 10.5,2"/><rect x="-12.5" y="-9.5" width="25" height="19"/></g>
<g transform="translate(1704.3 1543.6) rotate(87)" fill="#f23a27" stroke="#3a1a14" stroke-width="1.8"><polygon points="20.5,-5 42.5,-16 42.5,16 20.5,5"/><rect x="-22.5" y="-16.5" width="45" height="33"/></g>
<g transform="translate(2111 1351.8) rotate(90)" fill="#2fa84d" stroke="#1d5a2c" stroke-width="1.6"><polygon points="10.5,-2 24.5,-8.5 24.5,8.5 10.5,2"/><rect x="-12.5" y="-9.5" width="25" height="19"/></g>
<g transform="translate(2253.5 1322.5) rotate(176)" fill="#2fa84d" stroke="#1d5a2c" stroke-width="1.6"><polygon points="10.5,-2 24.5,-8.5 24.5,8.5 10.5,2"/><rect x="-12.5" y="-9.5" width="25" height="19"/></g>
<g transform="translate(2617.7 1355.9) rotate(0)" fill="#2fa84d" stroke="#1d5a2c" stroke-width="1.6"><polygon points="10.5,-2 24.5,-8.5 24.5,8.5 10.5,2"/><rect x="-12.5" y="-9.5" width="25" height="19"/></g>
<g transform="translate(3052.2 1429.9) rotate(-150)" fill="#2fa84d" stroke="#1d5a2c" stroke-width="1.6"><polygon points="10.5,-2 24.5,-8.5 24.5,8.5 10.5,2"/><rect x="-12.5" y="-9.5" width="25" height="19"/></g>
<g transform="translate(2366.8 462.2) rotate(45)" fill="#2fa84d" stroke="#1d5a2c" stroke-width="1.6"><polygon points="10.5,-2 24.5,-8.5 24.5,8.5 10.5,2"/><rect x="-12.5" y="-9.5" width="25" height="19"/></g>
<g transform="translate(2693.1 397.8) rotate(135)" fill="#2fa84d" stroke="#1d5a2c" stroke-width="1.6"><polygon points="10.5,-2 24.5,-8.5 24.5,8.5 10.5,2"/><rect x="-12.5" y="-9.5" width="25" height="19"/></g>
<g transform="translate(2695.8 894.3) rotate(-130)" fill="#2fa84d" stroke="#1d5a2c" stroke-width="1.6"><polygon points="10.5,-2 24.5,-8.5 24.5,8.5 10.5,2"/><rect x="-12.5" y="-9.5" width="25" height="19"/></g>
<g transform="translate(1166.8 1709.3) rotate(180)" fill="#2fa84d" stroke="#1d5a2c" stroke-width="1.6"><polygon points="10.5,-2 24.5,-8.5 24.5,8.5 10.5,2"/><rect x="-12.5" y="-9.5" width="25" height="19"/></g>
<g transform="translate(848.4 1837.8) rotate(45)" fill="#2fa84d" stroke="#1d5a2c" stroke-width="1.6"><polygon points="10.5,-2 24.5,-8.5 24.5,8.5 10.5,2"/><rect x="-12.5" y="-9.5" width="25" height="19"/></g>
<g transform="translate(1087.4 2058.8) rotate(-90)" fill="#2fa84d" stroke="#1d5a2c" stroke-width="1.6"><polygon points="10.5,-2 24.5,-8.5 24.5,8.5 10.5,2"/><rect x="-12.5" y="-9.5" width="25" height="19"/></g>
<g transform="translate(711.6 1984) rotate(128)" fill="#f23a27" stroke="#3a1a14" stroke-width="1.8"><polygon points="20.5,-5 42.5,-16 42.5,16 20.5,5"/><rect x="-22.5" y="-16.5" width="45" height="33"/></g>
<g transform="translate(2359.8 1699.5) rotate(0)" fill="#2fa84d" stroke="#1d5a2c" stroke-width="1.6"><polygon points="10.5,-2 24.5,-8.5 24.5,8.5 10.5,2"/><rect x="-12.5" y="-9.5" width="25" height="19"/></g>
<g transform="translate(2375.1 1840) rotate(47)" fill="#2fa84d" stroke="#1d5a2c" stroke-width="1.6"><polygon points="10.5,-2 24.5,-8.5 24.5,8.5 10.5,2"/><rect x="-12.5" y="-9.5" width="25" height="19"/></g>
<g transform="translate(2682.2 2052.7) rotate(-130)" fill="#2fa84d" stroke="#1d5a2c" stroke-width="1.6"><polygon points="10.5,-2 24.5,-8.5 24.5,8.5 10.5,2"/><rect x="-12.5" y="-9.5" width="25" height="19"/></g>
</g>
<g fill="#2b2a6e" opacity="0.85"><circle cx="2012" cy="1652" r="2.5"/><circle cx="2016" cy="1662" r="2"/><circle cx="2008" cy="1668" r="1.5"/><circle cx="1992" cy="1694" r="1.5"/><circle cx="1990" cy="1712" r="2"/><circle cx="2020" cy="1712" r="1.5"/><circle cx="2032" cy="1709" r="1.5"/><circle cx="2055" cy="1704" r="1.5"/><circle cx="2070" cy="1690" r="1"/><circle cx="2110" cy="1681" r="2.2"/><circle cx="2120" cy="1702" r="1.5"/><circle cx="2128" cy="1713" r="1.5"/><circle cx="2138" cy="1716" r="2"/><circle cx="2152" cy="1663" r="1.2"/></g>
<g fill="#8a8a8a" opacity="0.7"><circle cx="1317" cy="1903" r="2.5"/><circle cx="2227" cy="1808" r="2"/><circle cx="244" cy="776" r="2"/><circle cx="704" cy="2268" r="3"/></g>
<g transform="translate(366.7 219) rotate(37)" fill="#f23a27" stroke="#3a1a14" stroke-width="2"><polygon points="21.5,-4 42.5,-16 42.5,16 21.5,4"/><rect x="-22.5" y="-16.5" width="45" height="33"/></g>
<g transform="translate(893 256.7) rotate(-48)" fill="#f23a27" stroke="#3a1a14" stroke-width="2"><polygon points="21.5,-4 42.5,-16 42.5,16 21.5,4"/><rect x="-22.5" y="-16.5" width="45" height="33"/></g>
<g transform="translate(594 832) rotate(174)" fill="#f23a27" stroke="#3a1a14" stroke-width="2"><polygon points="21.5,-4 42.5,-16 42.5,16 21.5,4"/><rect x="-22.5" y="-16.5" width="45" height="33"/></g>
<g transform="translate(373.2 1396.6) rotate(171)" fill="#f23a27" stroke="#3a1a14" stroke-width="2"><polygon points="21.5,-4 42.5,-16 42.5,16 21.5,4"/><rect x="-22.5" y="-16.5" width="45" height="33"/></g>
<g fill="#f23a27" stroke="#3a1a14" stroke-width="2"><polygon points="2253.7,424 2231.7,413 2231.7,443 2253.7,432"/><rect x="2252.7" y="409.6" width="44.5" height="36.7"/></g>
<g fill="#f23a27" stroke="#3a1a14" stroke-width="2"><polygon points="2690.6,245.6 2679.6,223.6 2709.6,223.6 2698.6,245.6"/><rect x="2677.8" y="244.6" width="33.6" height="44.8"/></g>
<g transform="translate(1257.4 1873.6) rotate(78)" fill="#f23a27" stroke="#3a1a14" stroke-width="2"><polygon points="21.5,-4 42.5,-16 42.5,16 21.5,4"/><rect x="-22.5" y="-16.5" width="45" height="33"/></g>
<g fill="#f23a27" stroke="#3a1a14" stroke-width="2"><polygon points="1839.4,2051.6 1861.4,2040.6 1861.4,2070.6 1839.4,2059.6"/><rect x="1795.4" y="2038.6" width="45" height="34"/></g>
<g fill="#f23a27" stroke="#3a1a14" stroke-width="2"><polygon points="2219.6,2059.4 2197.6,2048.4 2197.6,2078.4 2219.6,2067.4"/><rect x="2218.6" y="2046.4" width="44.4" height="34.1"/></g>
<g fill="#2fa84d" stroke="#173d22" stroke-width="2"><polygon points="1071.8,2223.9 1093.8,2212.9 1093.8,2242.9 1071.8,2231.9"/><rect x="1027.8" y="2210.4" width="45" height="35.1"/></g>
<g fill="#f23a27" stroke="#3a1a14" stroke-width="2"><polygon points="2190.4,2224.5 2212.4,2213.5 2212.4,2243.5 2190.4,2232.5"/><rect x="2146.3" y="2211.5" width="45.1" height="34"/></g>
<g stroke="#3fae7a" stroke-width="1.3" fill="none"><line x1="411" y1="229" x2="513" y2="238"/><line x1="394" y1="256.7" x2="439" y2="345.7"/><line x1="909" y1="214.8" x2="919" y2="112.6"/><line x1="932.4" y1="233" x2="1024" y2="191"/><line x1="548.6" y1="821" x2="456.3" y2="783"/><line x1="551.7" y1="853.8" x2="470.5" y2="911.2"/><line x1="327.6" y1="1389" x2="233.8" y2="1357.2"/><line x1="333" y1="1421" x2="256.7" y2="1483.2"/><line x1="2231" y1="416" x2="2137.4" y2="377"/><line x1="2231.7" y1="443" x2="2150.5" y2="505.5"/><line x1="2680" y1="223.6" x2="2628.8" y2="135.7"/><line x1="2709" y1="223.6" x2="2758.8" y2="135.7"/><line x1="1250.6" y1="1919" x2="1223.3" y2="2015"/><line x1="1283.6" y1="1912.9" x2="1350" y2="1986"/><line x1="1863.5" y1="2041" x2="1950.4" y2="1990.4"/><line x1="1863.5" y1="2071" x2="1950.4" y2="2119.8"/><line x1="2196" y1="2049" x2="2109.7" y2="1997.7"/><line x1="2196" y1="2077.9" x2="2111" y2="2127.6"/><line x1="1094.8" y1="2211.5" x2="1180" y2="2164"/><line x1="1094.8" y1="2244" x2="1180" y2="2292.7"/><line x1="2213.4" y1="2214" x2="2299.8" y2="2163.3"/><line x1="2213.4" y1="2243" x2="2299.8" y2="2292.6"/></g>
<path d="M1603 2190.5 L1639.8 2210.4 H1654 V2248 H1639.8 L1603 2266.5 Z" fill="#5a6aa8" stroke="#3e4a8c" stroke-width="1.5"/>
<text x="523" y="2224" font-weight="bold" font-size="42.3" fill="#2f2f33">Условные обозначения:</text>
<rect x="521" y="2229.6" width="458" height="3.6" fill="#2f2f33"/>
<g font-size="32.5" fill="#2f2f33">
<text x="1202" y="2217.7">-</text><text x="1228.6" y="2217.7">Камера</text><text x="1227.5" y="2254.4">внутреннего</text><text x="1227.5" y="2291">видеонаблюдения</text>
<text x="2366" y="2225.5">-</text><text x="2392" y="2225.5">Камера</text><text x="2389.4" y="2261">наружного</text><text x="2389.4" y="2298">видеонаблюдения</text>
</g>
<g font-size="39" fill="#2f2f33">
<text x="1723.6" y="2220.8">-</text><text x="1777" y="2220.8">Система</text><text x="1777" y="2270">голосового</text><text x="1777" y="2317.5">оповещения</text>
</g>
</svg></body></html>
